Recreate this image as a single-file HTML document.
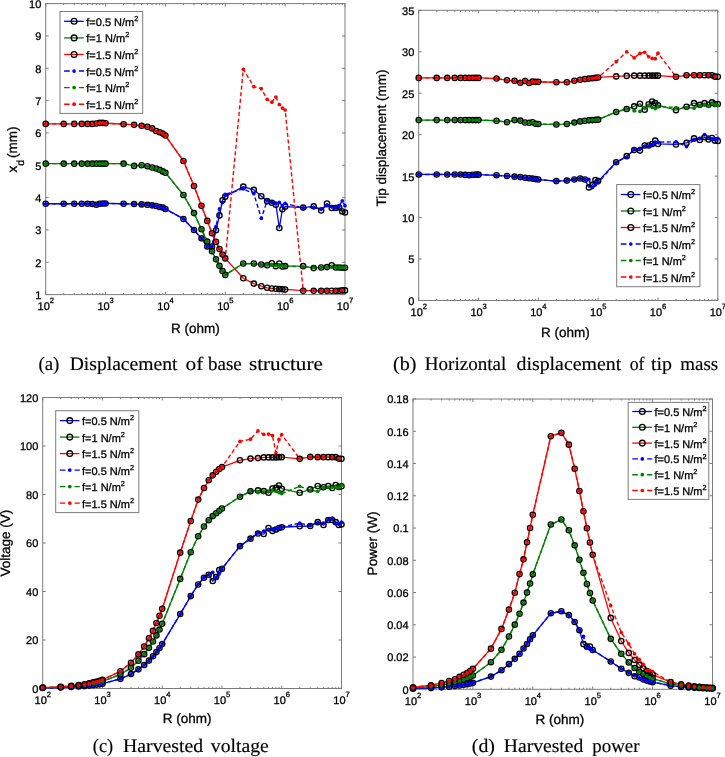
<!DOCTYPE html>
<html lang="en">
<head>
<meta charset="utf-8">
<title>Figure: displacement, voltage and power versus load resistance</title>
<style>
html,body{margin:0;padding:0;background:#fff;}
body{width:725px;height:757px;overflow:hidden;font-family:"Liberation Sans",sans-serif;}
svg{display:block;will-change:transform;}
svg text{stroke:#000;stroke-width:0.3px;paint-order:stroke fill;}
svg .cap text{stroke-width:0.15px;}
</style>
</head>
<body>
<svg width="725" height="757" viewBox="0 0 725 757" font-family="'Liberation Sans', sans-serif" fill="#000" text-rendering="geometricPrecision" stroke-linecap="butt">
<rect width="725" height="757" fill="#fff"/>
<g>
<rect x="45.7" y="3.6" width="299.3" height="291" fill="none" stroke="#7c7c7c" stroke-width="1"/>
<text x="37.57" y="310" font-size="11">10</text>
<text x="49.7" y="303.2" font-size="7.6">2</text>
<text x="97.43" y="310" font-size="11">10</text>
<text x="109.56" y="303.2" font-size="7.6">3</text>
<text x="157.29" y="310" font-size="11">10</text>
<text x="169.42" y="303.2" font-size="7.6">4</text>
<text x="217.15" y="310" font-size="11">10</text>
<text x="229.28" y="303.2" font-size="7.6">5</text>
<text x="277.01" y="310" font-size="11">10</text>
<text x="289.14" y="303.2" font-size="7.6">6</text>
<text x="336.87" y="310" font-size="11">10</text>
<text x="349" y="303.2" font-size="7.6">7</text>
<text x="41.3" y="299" font-size="11" text-anchor="end">1</text>
<text x="41.3" y="266.67" font-size="11" text-anchor="end">2</text>
<text x="41.3" y="234.33" font-size="11" text-anchor="end">3</text>
<text x="41.3" y="202" font-size="11" text-anchor="end">4</text>
<text x="41.3" y="169.67" font-size="11" text-anchor="end">5</text>
<text x="41.3" y="137.33" font-size="11" text-anchor="end">6</text>
<text x="41.3" y="105" font-size="11" text-anchor="end">7</text>
<text x="41.3" y="72.67" font-size="11" text-anchor="end">8</text>
<text x="41.3" y="40.33" font-size="11" text-anchor="end">9</text>
<text x="41.3" y="8" font-size="11" text-anchor="end">10</text>
<path d="M45.7 294.6v-3M45.7 3.6v3M63.72 294.6v-1.6M63.72 3.6v1.6M74.26 294.6v-1.6M74.26 3.6v1.6M81.74 294.6v-1.6M81.74 3.6v1.6M87.54 294.6v-1.6M87.54 3.6v1.6M92.28 294.6v-1.6M92.28 3.6v1.6M96.29 294.6v-1.6M96.29 3.6v1.6M99.76 294.6v-1.6M99.76 3.6v1.6M102.82 294.6v-1.6M102.82 3.6v1.6M105.56 294.6v-3M105.56 3.6v3M123.58 294.6v-1.6M123.58 3.6v1.6M134.12 294.6v-1.6M134.12 3.6v1.6M141.6 294.6v-1.6M141.6 3.6v1.6M147.4 294.6v-1.6M147.4 3.6v1.6M152.14 294.6v-1.6M152.14 3.6v1.6M156.15 294.6v-1.6M156.15 3.6v1.6M159.62 294.6v-1.6M159.62 3.6v1.6M162.68 294.6v-1.6M162.68 3.6v1.6M165.42 294.6v-3M165.42 3.6v3M183.44 294.6v-1.6M183.44 3.6v1.6M193.98 294.6v-1.6M193.98 3.6v1.6M201.46 294.6v-1.6M201.46 3.6v1.6M207.26 294.6v-1.6M207.26 3.6v1.6M212 294.6v-1.6M212 3.6v1.6M216.01 294.6v-1.6M216.01 3.6v1.6M219.48 294.6v-1.6M219.48 3.6v1.6M222.54 294.6v-1.6M222.54 3.6v1.6M225.28 294.6v-3M225.28 3.6v3M243.3 294.6v-1.6M243.3 3.6v1.6M253.84 294.6v-1.6M253.84 3.6v1.6M261.32 294.6v-1.6M261.32 3.6v1.6M267.12 294.6v-1.6M267.12 3.6v1.6M271.86 294.6v-1.6M271.86 3.6v1.6M275.87 294.6v-1.6M275.87 3.6v1.6M279.34 294.6v-1.6M279.34 3.6v1.6M282.4 294.6v-1.6M282.4 3.6v1.6M285.14 294.6v-3M285.14 3.6v3M303.16 294.6v-1.6M303.16 3.6v1.6M313.7 294.6v-1.6M313.7 3.6v1.6M321.18 294.6v-1.6M321.18 3.6v1.6M326.98 294.6v-1.6M326.98 3.6v1.6M331.72 294.6v-1.6M331.72 3.6v1.6M335.73 294.6v-1.6M335.73 3.6v1.6M339.2 294.6v-1.6M339.2 3.6v1.6M342.26 294.6v-1.6M342.26 3.6v1.6M345 294.6v-3M345 3.6v3M45.7 294.6h3M345 294.6h-3M45.7 262.27h3M345 262.27h-3M45.7 229.93h3M345 229.93h-3M45.7 197.6h3M345 197.6h-3M45.7 165.27h3M345 165.27h-3M45.7 132.93h3M345 132.93h-3M45.7 100.6h3M345 100.6h-3M45.7 68.27h3M345 68.27h-3M45.7 35.93h3M345 35.93h-3M45.7 3.6h3M345 3.6h-3" stroke="#7c7c7c" stroke-width="1" fill="none"/>
<polyline points="45.7,203.74 63.72,203.74 74.26,203.74 81.74,203.74 87.54,203.74 92.28,204.07 96.29,204.71 99.76,203.74 102.82,203.42 105.56,203.42 123.58,203.74 134.12,204.07 141.6,204.39 147.4,204.71 152.14,205.36 156.15,206.01 159.62,206.98 162.68,207.62 165.42,208.92 183.44,218.94 193.98,229.93 201.46,238.34 207.26,246.42 212,246.42 216.01,230.26 219.48,215.38 222.54,200.19 225.28,196.63 243.3,186.61 253.84,189.84 261.32,196.31 267.12,201.16 271.86,202.77 275.87,204.71 279.34,227.99 282.4,209.24 285.14,206.65 303.16,207.62 313.7,206.33 321.18,210.53 326.98,203.42 331.72,207.95 335.73,207.95 339.2,207.3 342.26,211.5 345,212.47" fill="none" stroke="#0000ff" stroke-width="1.3" stroke-linejoin="round"/>
<polyline points="45.7,163.65 63.72,163.65 74.26,163.65 81.74,163.65 87.54,163.65 92.28,163.65 96.29,163.65 99.76,163.65 102.82,163.65 105.56,163.65 123.58,163.65 134.12,165.91 141.6,165.27 147.4,166.24 152.14,167.53 156.15,168.5 159.62,169.79 162.68,171.41 165.42,172.7 183.44,195.01 193.98,213.12 201.46,229.29 207.26,241.57 212,251.27 216.01,259.36 219.48,265.82 222.54,271 225.28,274.88 243.3,263.56 253.84,263.56 261.32,264.53 267.12,265.18 271.86,263.24 275.87,266.15 279.34,263.56 282.4,266.47 285.14,266.15 303.16,266.15 313.7,268.09 321.18,267.44 326.98,267.12 331.72,265.18 335.73,267.44 339.2,267.44 342.26,267.76 345,267.76" fill="none" stroke="#007f00" stroke-width="1.3" stroke-linejoin="round"/>
<polyline points="45.7,123.88 63.72,123.88 74.26,123.88 81.74,123.88 87.54,123.88 92.28,123.88 96.29,123.56 99.76,122.91 102.82,122.91 105.56,123.23 123.58,124.2 134.12,124.85 141.6,125.82 147.4,126.79 152.14,128.41 156.15,130.99 159.62,132.29 162.68,133.58 165.42,135.52 183.44,161.06 193.98,185.96 201.46,205.68 207.26,220.88 212,233.17 216.01,241.9 219.48,249.01 222.54,254.51 225.28,258.39 243.3,278.27 253.84,283.61 261.32,286.19 267.12,287.81 271.86,288.46 275.87,288.78 279.34,289.1 282.4,289.27 285.14,289.43 303.16,290.72 313.7,290.72 321.18,290.72 326.98,290.72 331.72,290.72 335.73,290.72 339.2,290.72 342.26,290.4 345,290.4" fill="none" stroke="#ff0000" stroke-width="1.3" stroke-linejoin="round"/>
<polyline points="45.7,203.74 63.72,203.74 74.26,203.74 81.74,203.74 87.54,203.74 92.28,204.07 96.29,204.71 99.76,203.74 102.82,203.42 105.56,203.42 123.58,203.74 134.12,204.07 141.6,204.39 147.4,204.71 152.14,205.36 156.15,206.01 159.62,206.98 162.68,207.62 165.42,208.92 183.44,218.94 193.98,229.93 201.46,238.34 207.26,246.42 212,246.42 216.01,226.7 219.48,208.92 222.54,202.45 225.28,194.37 243.3,188.87 253.84,193.72 261.32,218.29 267.12,200.83 271.86,202.45 275.87,203.42 279.34,202.45 282.4,205.68 285.14,203.42 303.16,207.95 313.7,207.3 321.18,208.92 326.98,205.68 331.72,206.65 335.73,207.95 339.2,205.68 342.26,200.83 345,205.68" fill="none" stroke="#0000ff" stroke-width="1.4" stroke-dasharray="4.1 2.5" stroke-linejoin="round"/>
<polyline points="45.7,163.65 63.72,163.65 74.26,163.65 81.74,163.65 87.54,163.65 92.28,163.65 96.29,163.65 99.76,163.65 102.82,163.65 105.56,163.65 123.58,163.65 134.12,165.91 141.6,165.27 147.4,166.24 152.14,167.53 156.15,168.5 159.62,169.79 162.68,171.41 165.42,172.7 183.44,195.01 193.98,213.12 201.46,229.29 207.26,241.57 212,251.27 216.01,259.36 219.48,265.82 222.54,271 225.28,274.88 243.3,263.56 253.84,263.88 261.32,264.53 267.12,264.85 271.86,265.18 275.87,265.5 279.34,265.5 282.4,265.82 285.14,266.15 303.16,266.79 313.7,267.44 321.18,267.44 326.98,267.12 331.72,266.79 335.73,267.44 339.2,267.44 342.26,267.44 345,267.44" fill="none" stroke="#007f00" stroke-width="1.4" stroke-dasharray="4.1 2.5" stroke-linejoin="round"/>
<polyline points="45.7,123.88 63.72,123.88 74.26,123.88 81.74,123.88 87.54,123.88 92.28,123.88 96.29,123.56 99.76,122.91 102.82,122.91 105.56,123.23 123.58,124.2 134.12,124.85 141.6,125.82 147.4,126.79 152.14,128.41 156.15,130.99 159.62,132.29 162.68,133.58 165.42,135.52 183.44,161.06 193.98,185.96 201.46,205.68 207.26,220.88 212,233.17 216.01,241.9 219.48,249.01 222.54,254.51 225.28,258.39 243.3,69.24 253.84,86.7 261.32,88.64 267.12,99.31 271.86,102.22 275.87,97.04 279.34,104.48 282.4,108.04 285.14,109.98 303.16,290.4 313.7,290.72 321.18,290.72 326.98,290.72 335.73,290.72 342.26,290.4" fill="none" stroke="#ff0000" stroke-width="1.4" stroke-dasharray="4.1 2.5" stroke-linejoin="round"/>
<g fill="none" stroke="#000" stroke-width="1.35"><circle cx="45.7" cy="203.74" r="2.62"/><circle cx="63.72" cy="203.74" r="2.62"/><circle cx="74.26" cy="203.74" r="2.62"/><circle cx="81.74" cy="203.74" r="2.62"/><circle cx="87.54" cy="203.74" r="2.62"/><circle cx="92.28" cy="204.07" r="2.62"/><circle cx="96.29" cy="204.71" r="2.62"/><circle cx="99.76" cy="203.74" r="2.62"/><circle cx="102.82" cy="203.42" r="2.62"/><circle cx="105.56" cy="203.42" r="2.62"/><circle cx="123.58" cy="203.74" r="2.62"/><circle cx="134.12" cy="204.07" r="2.62"/><circle cx="141.6" cy="204.39" r="2.62"/><circle cx="147.4" cy="204.71" r="2.62"/><circle cx="152.14" cy="205.36" r="2.62"/><circle cx="156.15" cy="206.01" r="2.62"/><circle cx="159.62" cy="206.98" r="2.62"/><circle cx="162.68" cy="207.62" r="2.62"/><circle cx="165.42" cy="208.92" r="2.62"/><circle cx="183.44" cy="218.94" r="2.62"/><circle cx="193.98" cy="229.93" r="2.62"/><circle cx="201.46" cy="238.34" r="2.62"/><circle cx="207.26" cy="246.42" r="2.62"/><circle cx="212" cy="246.42" r="2.62"/><circle cx="216.01" cy="230.26" r="2.62"/><circle cx="219.48" cy="215.38" r="2.62"/><circle cx="222.54" cy="200.19" r="2.62"/><circle cx="225.28" cy="196.63" r="2.62"/><circle cx="243.3" cy="186.61" r="2.62"/><circle cx="253.84" cy="189.84" r="2.62"/><circle cx="261.32" cy="196.31" r="2.62"/><circle cx="267.12" cy="201.16" r="2.62"/><circle cx="271.86" cy="202.77" r="2.62"/><circle cx="275.87" cy="204.71" r="2.62"/><circle cx="279.34" cy="227.99" r="2.62"/><circle cx="282.4" cy="209.24" r="2.62"/><circle cx="285.14" cy="206.65" r="2.62"/><circle cx="303.16" cy="207.62" r="2.62"/><circle cx="313.7" cy="206.33" r="2.62"/><circle cx="321.18" cy="210.53" r="2.62"/><circle cx="326.98" cy="203.42" r="2.62"/><circle cx="331.72" cy="207.95" r="2.62"/><circle cx="335.73" cy="207.95" r="2.62"/><circle cx="339.2" cy="207.3" r="2.62"/><circle cx="342.26" cy="211.5" r="2.62"/><circle cx="345" cy="212.47" r="2.62"/></g>
<g fill="none" stroke="#000" stroke-width="1.35"><circle cx="45.7" cy="163.65" r="2.62"/><circle cx="63.72" cy="163.65" r="2.62"/><circle cx="74.26" cy="163.65" r="2.62"/><circle cx="81.74" cy="163.65" r="2.62"/><circle cx="87.54" cy="163.65" r="2.62"/><circle cx="92.28" cy="163.65" r="2.62"/><circle cx="96.29" cy="163.65" r="2.62"/><circle cx="99.76" cy="163.65" r="2.62"/><circle cx="102.82" cy="163.65" r="2.62"/><circle cx="105.56" cy="163.65" r="2.62"/><circle cx="123.58" cy="163.65" r="2.62"/><circle cx="134.12" cy="165.91" r="2.62"/><circle cx="141.6" cy="165.27" r="2.62"/><circle cx="147.4" cy="166.24" r="2.62"/><circle cx="152.14" cy="167.53" r="2.62"/><circle cx="156.15" cy="168.5" r="2.62"/><circle cx="159.62" cy="169.79" r="2.62"/><circle cx="162.68" cy="171.41" r="2.62"/><circle cx="165.42" cy="172.7" r="2.62"/><circle cx="183.44" cy="195.01" r="2.62"/><circle cx="193.98" cy="213.12" r="2.62"/><circle cx="201.46" cy="229.29" r="2.62"/><circle cx="207.26" cy="241.57" r="2.62"/><circle cx="212" cy="251.27" r="2.62"/><circle cx="216.01" cy="259.36" r="2.62"/><circle cx="219.48" cy="265.82" r="2.62"/><circle cx="222.54" cy="271" r="2.62"/><circle cx="225.28" cy="274.88" r="2.62"/><circle cx="243.3" cy="263.56" r="2.62"/><circle cx="253.84" cy="263.56" r="2.62"/><circle cx="261.32" cy="264.53" r="2.62"/><circle cx="267.12" cy="265.18" r="2.62"/><circle cx="271.86" cy="263.24" r="2.62"/><circle cx="275.87" cy="266.15" r="2.62"/><circle cx="279.34" cy="263.56" r="2.62"/><circle cx="282.4" cy="266.47" r="2.62"/><circle cx="285.14" cy="266.15" r="2.62"/><circle cx="303.16" cy="266.15" r="2.62"/><circle cx="313.7" cy="268.09" r="2.62"/><circle cx="321.18" cy="267.44" r="2.62"/><circle cx="326.98" cy="267.12" r="2.62"/><circle cx="331.72" cy="265.18" r="2.62"/><circle cx="335.73" cy="267.44" r="2.62"/><circle cx="339.2" cy="267.44" r="2.62"/><circle cx="342.26" cy="267.76" r="2.62"/><circle cx="345" cy="267.76" r="2.62"/></g>
<g fill="none" stroke="#000" stroke-width="1.35"><circle cx="45.7" cy="123.88" r="2.62"/><circle cx="63.72" cy="123.88" r="2.62"/><circle cx="74.26" cy="123.88" r="2.62"/><circle cx="81.74" cy="123.88" r="2.62"/><circle cx="87.54" cy="123.88" r="2.62"/><circle cx="92.28" cy="123.88" r="2.62"/><circle cx="96.29" cy="123.56" r="2.62"/><circle cx="99.76" cy="122.91" r="2.62"/><circle cx="102.82" cy="122.91" r="2.62"/><circle cx="105.56" cy="123.23" r="2.62"/><circle cx="123.58" cy="124.2" r="2.62"/><circle cx="134.12" cy="124.85" r="2.62"/><circle cx="141.6" cy="125.82" r="2.62"/><circle cx="147.4" cy="126.79" r="2.62"/><circle cx="152.14" cy="128.41" r="2.62"/><circle cx="156.15" cy="130.99" r="2.62"/><circle cx="159.62" cy="132.29" r="2.62"/><circle cx="162.68" cy="133.58" r="2.62"/><circle cx="165.42" cy="135.52" r="2.62"/><circle cx="183.44" cy="161.06" r="2.62"/><circle cx="193.98" cy="185.96" r="2.62"/><circle cx="201.46" cy="205.68" r="2.62"/><circle cx="207.26" cy="220.88" r="2.62"/><circle cx="212" cy="233.17" r="2.62"/><circle cx="216.01" cy="241.9" r="2.62"/><circle cx="219.48" cy="249.01" r="2.62"/><circle cx="222.54" cy="254.51" r="2.62"/><circle cx="225.28" cy="258.39" r="2.62"/><circle cx="243.3" cy="278.27" r="2.62"/><circle cx="253.84" cy="283.61" r="2.62"/><circle cx="261.32" cy="286.19" r="2.62"/><circle cx="267.12" cy="287.81" r="2.62"/><circle cx="271.86" cy="288.46" r="2.62"/><circle cx="275.87" cy="288.78" r="2.62"/><circle cx="279.34" cy="289.1" r="2.62"/><circle cx="282.4" cy="289.27" r="2.62"/><circle cx="285.14" cy="289.43" r="2.62"/><circle cx="303.16" cy="290.72" r="2.62"/><circle cx="313.7" cy="290.72" r="2.62"/><circle cx="321.18" cy="290.72" r="2.62"/><circle cx="326.98" cy="290.72" r="2.62"/><circle cx="331.72" cy="290.72" r="2.62"/><circle cx="335.73" cy="290.72" r="2.62"/><circle cx="339.2" cy="290.72" r="2.62"/><circle cx="342.26" cy="290.4" r="2.62"/><circle cx="345" cy="290.4" r="2.62"/></g>
<g fill="#0000ff" stroke="none"><circle cx="45.7" cy="203.74" r="1.85"/><circle cx="63.72" cy="203.74" r="1.85"/><circle cx="74.26" cy="203.74" r="1.85"/><circle cx="81.74" cy="203.74" r="1.85"/><circle cx="87.54" cy="203.74" r="1.85"/><circle cx="92.28" cy="204.07" r="1.85"/><circle cx="96.29" cy="204.71" r="1.85"/><circle cx="99.76" cy="203.74" r="1.85"/><circle cx="102.82" cy="203.42" r="1.85"/><circle cx="105.56" cy="203.42" r="1.85"/><circle cx="123.58" cy="203.74" r="1.85"/><circle cx="134.12" cy="204.07" r="1.85"/><circle cx="141.6" cy="204.39" r="1.85"/><circle cx="147.4" cy="204.71" r="1.85"/><circle cx="152.14" cy="205.36" r="1.85"/><circle cx="156.15" cy="206.01" r="1.85"/><circle cx="159.62" cy="206.98" r="1.85"/><circle cx="162.68" cy="207.62" r="1.85"/><circle cx="165.42" cy="208.92" r="1.85"/><circle cx="183.44" cy="218.94" r="1.85"/><circle cx="193.98" cy="229.93" r="1.85"/><circle cx="201.46" cy="238.34" r="1.85"/><circle cx="207.26" cy="246.42" r="1.85"/><circle cx="212" cy="246.42" r="1.85"/><circle cx="216.01" cy="226.7" r="1.85"/><circle cx="219.48" cy="208.92" r="1.85"/><circle cx="222.54" cy="202.45" r="1.85"/><circle cx="225.28" cy="194.37" r="1.85"/><circle cx="243.3" cy="188.87" r="1.85"/><circle cx="253.84" cy="193.72" r="1.85"/><circle cx="261.32" cy="218.29" r="1.85"/><circle cx="267.12" cy="200.83" r="1.85"/><circle cx="271.86" cy="202.45" r="1.85"/><circle cx="275.87" cy="203.42" r="1.85"/><circle cx="279.34" cy="202.45" r="1.85"/><circle cx="282.4" cy="205.68" r="1.85"/><circle cx="285.14" cy="203.42" r="1.85"/><circle cx="303.16" cy="207.95" r="1.85"/><circle cx="313.7" cy="207.3" r="1.85"/><circle cx="321.18" cy="208.92" r="1.85"/><circle cx="326.98" cy="205.68" r="1.85"/><circle cx="331.72" cy="206.65" r="1.85"/><circle cx="335.73" cy="207.95" r="1.85"/><circle cx="339.2" cy="205.68" r="1.85"/><circle cx="342.26" cy="200.83" r="1.85"/><circle cx="345" cy="205.68" r="1.85"/></g>
<g fill="#007f00" stroke="none"><circle cx="45.7" cy="163.65" r="1.85"/><circle cx="63.72" cy="163.65" r="1.85"/><circle cx="74.26" cy="163.65" r="1.85"/><circle cx="81.74" cy="163.65" r="1.85"/><circle cx="87.54" cy="163.65" r="1.85"/><circle cx="92.28" cy="163.65" r="1.85"/><circle cx="96.29" cy="163.65" r="1.85"/><circle cx="99.76" cy="163.65" r="1.85"/><circle cx="102.82" cy="163.65" r="1.85"/><circle cx="105.56" cy="163.65" r="1.85"/><circle cx="123.58" cy="163.65" r="1.85"/><circle cx="134.12" cy="165.91" r="1.85"/><circle cx="141.6" cy="165.27" r="1.85"/><circle cx="147.4" cy="166.24" r="1.85"/><circle cx="152.14" cy="167.53" r="1.85"/><circle cx="156.15" cy="168.5" r="1.85"/><circle cx="159.62" cy="169.79" r="1.85"/><circle cx="162.68" cy="171.41" r="1.85"/><circle cx="165.42" cy="172.7" r="1.85"/><circle cx="183.44" cy="195.01" r="1.85"/><circle cx="193.98" cy="213.12" r="1.85"/><circle cx="201.46" cy="229.29" r="1.85"/><circle cx="207.26" cy="241.57" r="1.85"/><circle cx="212" cy="251.27" r="1.85"/><circle cx="216.01" cy="259.36" r="1.85"/><circle cx="219.48" cy="265.82" r="1.85"/><circle cx="222.54" cy="271" r="1.85"/><circle cx="225.28" cy="274.88" r="1.85"/><circle cx="243.3" cy="263.56" r="1.85"/><circle cx="253.84" cy="263.88" r="1.85"/><circle cx="261.32" cy="264.53" r="1.85"/><circle cx="267.12" cy="264.85" r="1.85"/><circle cx="271.86" cy="265.18" r="1.85"/><circle cx="275.87" cy="265.5" r="1.85"/><circle cx="279.34" cy="265.5" r="1.85"/><circle cx="282.4" cy="265.82" r="1.85"/><circle cx="285.14" cy="266.15" r="1.85"/><circle cx="303.16" cy="266.79" r="1.85"/><circle cx="313.7" cy="267.44" r="1.85"/><circle cx="321.18" cy="267.44" r="1.85"/><circle cx="326.98" cy="267.12" r="1.85"/><circle cx="331.72" cy="266.79" r="1.85"/><circle cx="335.73" cy="267.44" r="1.85"/><circle cx="339.2" cy="267.44" r="1.85"/><circle cx="342.26" cy="267.44" r="1.85"/><circle cx="345" cy="267.44" r="1.85"/></g>
<g fill="#ff0000" stroke="none"><circle cx="45.7" cy="123.88" r="1.85"/><circle cx="63.72" cy="123.88" r="1.85"/><circle cx="74.26" cy="123.88" r="1.85"/><circle cx="81.74" cy="123.88" r="1.85"/><circle cx="87.54" cy="123.88" r="1.85"/><circle cx="92.28" cy="123.88" r="1.85"/><circle cx="96.29" cy="123.56" r="1.85"/><circle cx="99.76" cy="122.91" r="1.85"/><circle cx="102.82" cy="122.91" r="1.85"/><circle cx="105.56" cy="123.23" r="1.85"/><circle cx="123.58" cy="124.2" r="1.85"/><circle cx="134.12" cy="124.85" r="1.85"/><circle cx="141.6" cy="125.82" r="1.85"/><circle cx="147.4" cy="126.79" r="1.85"/><circle cx="152.14" cy="128.41" r="1.85"/><circle cx="156.15" cy="130.99" r="1.85"/><circle cx="159.62" cy="132.29" r="1.85"/><circle cx="162.68" cy="133.58" r="1.85"/><circle cx="165.42" cy="135.52" r="1.85"/><circle cx="183.44" cy="161.06" r="1.85"/><circle cx="193.98" cy="185.96" r="1.85"/><circle cx="201.46" cy="205.68" r="1.85"/><circle cx="207.26" cy="220.88" r="1.85"/><circle cx="212" cy="233.17" r="1.85"/><circle cx="216.01" cy="241.9" r="1.85"/><circle cx="219.48" cy="249.01" r="1.85"/><circle cx="222.54" cy="254.51" r="1.85"/><circle cx="225.28" cy="258.39" r="1.85"/><circle cx="243.3" cy="69.24" r="1.85"/><circle cx="253.84" cy="86.7" r="1.85"/><circle cx="261.32" cy="88.64" r="1.85"/><circle cx="267.12" cy="99.31" r="1.85"/><circle cx="271.86" cy="102.22" r="1.85"/><circle cx="275.87" cy="97.04" r="1.85"/><circle cx="279.34" cy="104.48" r="1.85"/><circle cx="282.4" cy="108.04" r="1.85"/><circle cx="285.14" cy="109.98" r="1.85"/><circle cx="303.16" cy="290.4" r="1.85"/><circle cx="313.7" cy="290.72" r="1.85"/><circle cx="321.18" cy="290.72" r="1.85"/><circle cx="326.98" cy="290.72" r="1.85"/><circle cx="335.73" cy="290.72" r="1.85"/><circle cx="342.26" cy="290.4" r="1.85"/></g>
<text x="195.5" y="332.8" font-size="13.5" text-anchor="middle">R (ohm)</text>
<text transform="translate(17.2,149.6) rotate(-90)" font-size="13.5" text-anchor="middle">x<tspan dy="6.3" font-size="10.5">d</tspan><tspan dy="-6.3" dx="-1.8"> (mm)</tspan></text>
<rect x="60" y="11.5" width="82.7" height="101.9" fill="#fff" stroke="#7c7c7c" stroke-width="1"/>
<path d="M64.1 21.3h19.6" stroke="#0000ff" stroke-width="1.3"/>
<circle cx="74.1" cy="21.3" r="2.85" fill="none" stroke="#000" stroke-width="1.35"/>
<text x="86.3" y="25.8" font-size="11">f=0.5 N/m<tspan dy="-4.9" font-size="7.3">2</tspan></text>
<path d="M64.1 37.88h19.6" stroke="#007f00" stroke-width="1.3"/>
<circle cx="74.1" cy="37.88" r="2.85" fill="none" stroke="#000" stroke-width="1.35"/>
<text x="86.3" y="42.38" font-size="11">f=1 N/m<tspan dy="-4.9" font-size="7.3">2</tspan></text>
<path d="M64.1 54.46h19.6" stroke="#ff0000" stroke-width="1.3"/>
<circle cx="74.1" cy="54.46" r="2.85" fill="none" stroke="#000" stroke-width="1.35"/>
<text x="86.3" y="58.96" font-size="11">f=1.5 N/m<tspan dy="-4.9" font-size="7.3">2</tspan></text>
<path d="M64.1 71.04h5.6m9.2 0h5.2" stroke="#0000ff" stroke-width="1.4"/>
<circle cx="74.1" cy="71.04" r="1.85" fill="#0000ff"/>
<text x="86.3" y="75.54" font-size="11">f=0.5 N/m<tspan dy="-4.9" font-size="7.3">2</tspan></text>
<path d="M64.1 87.62h5.6m9.2 0h5.2" stroke="#007f00" stroke-width="1.4"/>
<circle cx="74.1" cy="87.62" r="1.85" fill="#007f00"/>
<text x="86.3" y="92.12" font-size="11">f=1 N/m<tspan dy="-4.9" font-size="7.3">2</tspan></text>
<path d="M64.1 104.2h5.6m9.2 0h5.2" stroke="#ff0000" stroke-width="1.4"/>
<circle cx="74.1" cy="104.2" r="1.85" fill="#ff0000"/>
<text x="86.3" y="108.7" font-size="11">f=1.5 N/m<tspan dy="-4.9" font-size="7.3">2</tspan></text>
</g>
<g>
<rect x="418.7" y="10.3" width="299.1" height="290.2" fill="none" stroke="#7c7c7c" stroke-width="1"/>
<text x="410.57" y="315.9" font-size="11">10</text>
<text x="422.7" y="309.1" font-size="7.6">2</text>
<text x="470.39" y="315.9" font-size="11">10</text>
<text x="482.52" y="309.1" font-size="7.6">3</text>
<text x="530.21" y="315.9" font-size="11">10</text>
<text x="542.34" y="309.1" font-size="7.6">4</text>
<text x="590.03" y="315.9" font-size="11">10</text>
<text x="602.16" y="309.1" font-size="7.6">5</text>
<text x="649.85" y="315.9" font-size="11">10</text>
<text x="661.98" y="309.1" font-size="7.6">6</text>
<text x="709.67" y="315.9" font-size="11">10</text>
<text x="721.8" y="309.1" font-size="7.6">7</text>
<text x="414.3" y="304.9" font-size="11" text-anchor="end">0</text>
<text x="414.3" y="263.44" font-size="11" text-anchor="end">5</text>
<text x="414.3" y="221.99" font-size="11" text-anchor="end">10</text>
<text x="414.3" y="180.53" font-size="11" text-anchor="end">15</text>
<text x="414.3" y="139.07" font-size="11" text-anchor="end">20</text>
<text x="414.3" y="97.61" font-size="11" text-anchor="end">25</text>
<text x="414.3" y="56.16" font-size="11" text-anchor="end">30</text>
<text x="414.3" y="14.7" font-size="11" text-anchor="end">35</text>
<path d="M418.7 300.5v-3M418.7 10.3v3M436.71 300.5v-1.6M436.71 10.3v1.6M447.24 300.5v-1.6M447.24 10.3v1.6M454.72 300.5v-1.6M454.72 10.3v1.6M460.51 300.5v-1.6M460.51 10.3v1.6M465.25 300.5v-1.6M465.25 10.3v1.6M469.25 300.5v-1.6M469.25 10.3v1.6M472.72 300.5v-1.6M472.72 10.3v1.6M475.78 300.5v-1.6M475.78 10.3v1.6M478.52 300.5v-3M478.52 10.3v3M496.53 300.5v-1.6M496.53 10.3v1.6M507.06 300.5v-1.6M507.06 10.3v1.6M514.54 300.5v-1.6M514.54 10.3v1.6M520.33 300.5v-1.6M520.33 10.3v1.6M525.07 300.5v-1.6M525.07 10.3v1.6M529.07 300.5v-1.6M529.07 10.3v1.6M532.54 300.5v-1.6M532.54 10.3v1.6M535.6 300.5v-1.6M535.6 10.3v1.6M538.34 300.5v-3M538.34 10.3v3M556.35 300.5v-1.6M556.35 10.3v1.6M566.88 300.5v-1.6M566.88 10.3v1.6M574.36 300.5v-1.6M574.36 10.3v1.6M580.15 300.5v-1.6M580.15 10.3v1.6M584.89 300.5v-1.6M584.89 10.3v1.6M588.89 300.5v-1.6M588.89 10.3v1.6M592.36 300.5v-1.6M592.36 10.3v1.6M595.42 300.5v-1.6M595.42 10.3v1.6M598.16 300.5v-3M598.16 10.3v3M616.17 300.5v-1.6M616.17 10.3v1.6M626.7 300.5v-1.6M626.7 10.3v1.6M634.18 300.5v-1.6M634.18 10.3v1.6M639.97 300.5v-1.6M639.97 10.3v1.6M644.71 300.5v-1.6M644.71 10.3v1.6M648.71 300.5v-1.6M648.71 10.3v1.6M652.18 300.5v-1.6M652.18 10.3v1.6M655.24 300.5v-1.6M655.24 10.3v1.6M657.98 300.5v-3M657.98 10.3v3M675.99 300.5v-1.6M675.99 10.3v1.6M686.52 300.5v-1.6M686.52 10.3v1.6M694 300.5v-1.6M694 10.3v1.6M699.79 300.5v-1.6M699.79 10.3v1.6M704.53 300.5v-1.6M704.53 10.3v1.6M708.53 300.5v-1.6M708.53 10.3v1.6M712 300.5v-1.6M712 10.3v1.6M715.06 300.5v-1.6M715.06 10.3v1.6M717.8 300.5v-3M717.8 10.3v3M418.7 300.5h3M717.8 300.5h-3M418.7 259.04h3M717.8 259.04h-3M418.7 217.59h3M717.8 217.59h-3M418.7 176.13h3M717.8 176.13h-3M418.7 134.67h3M717.8 134.67h-3M418.7 93.21h3M717.8 93.21h-3M418.7 51.76h3M717.8 51.76h-3M418.7 10.3h3M717.8 10.3h-3" stroke="#7c7c7c" stroke-width="1" fill="none"/>
<polyline points="418.7,174.47 436.71,174.47 447.24,174.47 454.72,174.47 460.51,174.47 465.25,174.88 469.25,175.13 472.72,174.8 475.78,174.64 478.52,174.64 496.53,175.3 507.06,176.05 514.54,176.63 520.33,177.12 525.07,177.79 529.07,178.2 532.54,178.62 535.6,179.11 538.34,179.53 556.35,181.1 566.88,180.61 574.36,179.45 580.15,178.45 584.89,179.45 588.89,187.4 592.36,184.83 595.42,179.94 598.16,181.1 616.17,162.28 626.7,156.15 634.18,149.93 639.97,150.59 644.71,145.53 648.71,145.53 652.18,143.96 655.24,140.64 657.98,143.96 675.99,144.46 686.52,142.88 694,138.4 699.79,139.98 704.53,137.32 708.53,139.56 712,137.99 715.06,140.64 717.8,141.06" fill="none" stroke="#0000ff" stroke-width="1.3" stroke-linejoin="round"/>
<polyline points="418.7,120.08 436.71,120.08 447.24,120.08 454.72,120.08 460.51,120.08 465.25,120.08 469.25,120.08 472.72,120.08 475.78,120.08 478.52,120.08 496.53,120.74 507.06,122.23 514.54,120.08 520.33,120.58 525.07,122.48 529.07,122.73 532.54,122.23 535.6,123.81 538.34,124.06 556.35,124.47 566.88,124.06 574.36,122.57 580.15,121.41 584.89,120.74 588.89,120.33 592.36,120.08 595.42,119.91 598.16,119.66 616.17,111.95 626.7,109.05 634.18,106.4 639.97,103.74 644.71,109.8 648.71,104.24 652.18,101.51 655.24,103.16 657.98,105.24 675.99,110.13 686.52,106.81 694,103.16 699.79,104.82 704.53,103.16 708.53,104.82 712,102.33 715.06,103.99 717.8,103.99" fill="none" stroke="#007f00" stroke-width="1.3" stroke-linejoin="round"/>
<polyline points="418.7,77.88 436.71,77.88 447.24,77.88 454.72,77.88 460.51,77.88 465.25,77.88 469.25,77.88 472.72,77.88 475.78,77.88 478.52,77.88 496.53,78.54 507.06,80.28 514.54,80.78 520.33,82.68 525.07,80.94 529.07,82.93 532.54,81.61 535.6,81.86 538.34,81.86 556.35,82.27 566.88,82.27 574.36,80.78 580.15,79.78 584.89,79.12 588.89,78.62 592.36,78.29 595.42,77.88 598.16,77.46 616.17,76.38 626.7,75.89 634.18,75.64 639.97,75.64 644.71,75.64 648.71,75.64 652.18,75.64 655.24,75.64 657.98,75.64 675.99,76.8 686.52,75.22 694,75.22 699.79,75.22 704.53,75.22 708.53,75.22 712,75.22 715.06,76.63 717.8,76.8" fill="none" stroke="#ff0000" stroke-width="1.3" stroke-linejoin="round"/>
<polyline points="418.7,174.47 436.71,174.47 447.24,174.47 454.72,174.47 460.51,174.47 465.25,174.88 469.25,175.13 472.72,174.8 475.78,174.64 478.52,174.64 496.53,175.3 507.06,176.05 514.54,176.63 520.33,177.12 525.07,177.79 529.07,178.2 532.54,178.62 535.6,179.11 538.34,179.53 556.35,181.1 566.88,180.61 574.36,179.45 580.15,178.45 584.89,179.45 588.89,179.45 592.36,187.4 595.42,184.83 598.16,182.76 616.17,162.28 626.7,157.06 634.18,149.6 639.97,148.35 644.71,146.11 648.71,146.11 652.18,144.62 655.24,142.96 657.98,142.13 675.99,141.8 686.52,146.61 694,139.65 699.79,138.4 704.53,134.67 708.53,137.16 712,138.82 715.06,138.82 717.8,138.4" fill="none" stroke="#0000ff" stroke-width="1.4" stroke-dasharray="4.1 2.5" stroke-linejoin="round"/>
<polyline points="418.7,120.08 436.71,120.08 447.24,120.08 454.72,120.08 460.51,120.08 465.25,120.08 469.25,120.08 472.72,120.08 475.78,120.08 478.52,120.08 496.53,120.74 507.06,122.23 514.54,120.08 520.33,120.58 525.07,122.48 529.07,122.73 532.54,122.23 535.6,123.81 538.34,124.06 556.35,124.47 566.88,124.06 574.36,122.57 580.15,121.41 584.89,120.74 588.89,120.33 592.36,120.08 595.42,119.91 598.16,119.66 616.17,111.95 626.7,108.97 634.18,110.79 639.97,111.46 644.71,107.48 648.71,105.24 652.18,107.48 655.24,108.55 657.98,106.48 675.99,107.48 686.52,107.48 694,108.14 699.79,105.24 704.53,104.82 708.53,106.48 712,103.16 715.06,104.82 717.8,105.24" fill="none" stroke="#007f00" stroke-width="1.4" stroke-dasharray="4.1 2.5" stroke-linejoin="round"/>
<polyline points="418.7,77.88 436.71,77.88 447.24,77.88 454.72,77.88 460.51,77.88 465.25,77.88 469.25,77.88 472.72,77.88 475.78,77.88 478.52,77.88 496.53,78.54 507.06,80.28 514.54,80.78 520.33,82.68 525.07,80.94 529.07,82.93 532.54,81.61 535.6,81.86 538.34,81.86 556.35,82.27 566.88,82.27 574.36,80.78 580.15,79.78 584.89,79.12 588.89,78.62 592.36,78.29 595.42,77.88 598.16,77.46 616.17,61.71 626.7,51.76 634.18,57.81 639.97,53.42 644.71,52.25 648.71,56.73 652.18,58.39 655.24,58.64 657.98,53.17 675.99,76.8 686.52,75.22 694,75.22 699.79,75.22 708.53,75.22 715.06,76.63" fill="none" stroke="#ff0000" stroke-width="1.4" stroke-dasharray="4.1 2.5" stroke-linejoin="round"/>
<g fill="none" stroke="#000" stroke-width="1.35"><circle cx="418.7" cy="174.47" r="2.62"/><circle cx="436.71" cy="174.47" r="2.62"/><circle cx="447.24" cy="174.47" r="2.62"/><circle cx="454.72" cy="174.47" r="2.62"/><circle cx="460.51" cy="174.47" r="2.62"/><circle cx="465.25" cy="174.88" r="2.62"/><circle cx="469.25" cy="175.13" r="2.62"/><circle cx="472.72" cy="174.8" r="2.62"/><circle cx="475.78" cy="174.64" r="2.62"/><circle cx="478.52" cy="174.64" r="2.62"/><circle cx="496.53" cy="175.3" r="2.62"/><circle cx="507.06" cy="176.05" r="2.62"/><circle cx="514.54" cy="176.63" r="2.62"/><circle cx="520.33" cy="177.12" r="2.62"/><circle cx="525.07" cy="177.79" r="2.62"/><circle cx="529.07" cy="178.2" r="2.62"/><circle cx="532.54" cy="178.62" r="2.62"/><circle cx="535.6" cy="179.11" r="2.62"/><circle cx="538.34" cy="179.53" r="2.62"/><circle cx="556.35" cy="181.1" r="2.62"/><circle cx="566.88" cy="180.61" r="2.62"/><circle cx="574.36" cy="179.45" r="2.62"/><circle cx="580.15" cy="178.45" r="2.62"/><circle cx="584.89" cy="179.45" r="2.62"/><circle cx="588.89" cy="187.4" r="2.62"/><circle cx="592.36" cy="184.83" r="2.62"/><circle cx="595.42" cy="179.94" r="2.62"/><circle cx="598.16" cy="181.1" r="2.62"/><circle cx="616.17" cy="162.28" r="2.62"/><circle cx="626.7" cy="156.15" r="2.62"/><circle cx="634.18" cy="149.93" r="2.62"/><circle cx="639.97" cy="150.59" r="2.62"/><circle cx="644.71" cy="145.53" r="2.62"/><circle cx="648.71" cy="145.53" r="2.62"/><circle cx="652.18" cy="143.96" r="2.62"/><circle cx="655.24" cy="140.64" r="2.62"/><circle cx="657.98" cy="143.96" r="2.62"/><circle cx="675.99" cy="144.46" r="2.62"/><circle cx="686.52" cy="142.88" r="2.62"/><circle cx="694" cy="138.4" r="2.62"/><circle cx="699.79" cy="139.98" r="2.62"/><circle cx="704.53" cy="137.32" r="2.62"/><circle cx="708.53" cy="139.56" r="2.62"/><circle cx="712" cy="137.99" r="2.62"/><circle cx="715.06" cy="140.64" r="2.62"/><circle cx="717.8" cy="141.06" r="2.62"/></g>
<g fill="none" stroke="#000" stroke-width="1.35"><circle cx="418.7" cy="120.08" r="2.62"/><circle cx="436.71" cy="120.08" r="2.62"/><circle cx="447.24" cy="120.08" r="2.62"/><circle cx="454.72" cy="120.08" r="2.62"/><circle cx="460.51" cy="120.08" r="2.62"/><circle cx="465.25" cy="120.08" r="2.62"/><circle cx="469.25" cy="120.08" r="2.62"/><circle cx="472.72" cy="120.08" r="2.62"/><circle cx="475.78" cy="120.08" r="2.62"/><circle cx="478.52" cy="120.08" r="2.62"/><circle cx="496.53" cy="120.74" r="2.62"/><circle cx="507.06" cy="122.23" r="2.62"/><circle cx="514.54" cy="120.08" r="2.62"/><circle cx="520.33" cy="120.58" r="2.62"/><circle cx="525.07" cy="122.48" r="2.62"/><circle cx="529.07" cy="122.73" r="2.62"/><circle cx="532.54" cy="122.23" r="2.62"/><circle cx="535.6" cy="123.81" r="2.62"/><circle cx="538.34" cy="124.06" r="2.62"/><circle cx="556.35" cy="124.47" r="2.62"/><circle cx="566.88" cy="124.06" r="2.62"/><circle cx="574.36" cy="122.57" r="2.62"/><circle cx="580.15" cy="121.41" r="2.62"/><circle cx="584.89" cy="120.74" r="2.62"/><circle cx="588.89" cy="120.33" r="2.62"/><circle cx="592.36" cy="120.08" r="2.62"/><circle cx="595.42" cy="119.91" r="2.62"/><circle cx="598.16" cy="119.66" r="2.62"/><circle cx="616.17" cy="111.95" r="2.62"/><circle cx="626.7" cy="109.05" r="2.62"/><circle cx="634.18" cy="106.4" r="2.62"/><circle cx="639.97" cy="103.74" r="2.62"/><circle cx="644.71" cy="109.8" r="2.62"/><circle cx="648.71" cy="104.24" r="2.62"/><circle cx="652.18" cy="101.51" r="2.62"/><circle cx="655.24" cy="103.16" r="2.62"/><circle cx="657.98" cy="105.24" r="2.62"/><circle cx="675.99" cy="110.13" r="2.62"/><circle cx="686.52" cy="106.81" r="2.62"/><circle cx="694" cy="103.16" r="2.62"/><circle cx="699.79" cy="104.82" r="2.62"/><circle cx="704.53" cy="103.16" r="2.62"/><circle cx="708.53" cy="104.82" r="2.62"/><circle cx="712" cy="102.33" r="2.62"/><circle cx="715.06" cy="103.99" r="2.62"/><circle cx="717.8" cy="103.99" r="2.62"/></g>
<g fill="none" stroke="#000" stroke-width="1.35"><circle cx="418.7" cy="77.88" r="2.62"/><circle cx="436.71" cy="77.88" r="2.62"/><circle cx="447.24" cy="77.88" r="2.62"/><circle cx="454.72" cy="77.88" r="2.62"/><circle cx="460.51" cy="77.88" r="2.62"/><circle cx="465.25" cy="77.88" r="2.62"/><circle cx="469.25" cy="77.88" r="2.62"/><circle cx="472.72" cy="77.88" r="2.62"/><circle cx="475.78" cy="77.88" r="2.62"/><circle cx="478.52" cy="77.88" r="2.62"/><circle cx="496.53" cy="78.54" r="2.62"/><circle cx="507.06" cy="80.28" r="2.62"/><circle cx="514.54" cy="80.78" r="2.62"/><circle cx="520.33" cy="82.68" r="2.62"/><circle cx="525.07" cy="80.94" r="2.62"/><circle cx="529.07" cy="82.93" r="2.62"/><circle cx="532.54" cy="81.61" r="2.62"/><circle cx="535.6" cy="81.86" r="2.62"/><circle cx="538.34" cy="81.86" r="2.62"/><circle cx="556.35" cy="82.27" r="2.62"/><circle cx="566.88" cy="82.27" r="2.62"/><circle cx="574.36" cy="80.78" r="2.62"/><circle cx="580.15" cy="79.78" r="2.62"/><circle cx="584.89" cy="79.12" r="2.62"/><circle cx="588.89" cy="78.62" r="2.62"/><circle cx="592.36" cy="78.29" r="2.62"/><circle cx="595.42" cy="77.88" r="2.62"/><circle cx="598.16" cy="77.46" r="2.62"/><circle cx="616.17" cy="76.38" r="2.62"/><circle cx="626.7" cy="75.89" r="2.62"/><circle cx="634.18" cy="75.64" r="2.62"/><circle cx="639.97" cy="75.64" r="2.62"/><circle cx="644.71" cy="75.64" r="2.62"/><circle cx="648.71" cy="75.64" r="2.62"/><circle cx="652.18" cy="75.64" r="2.62"/><circle cx="655.24" cy="75.64" r="2.62"/><circle cx="657.98" cy="75.64" r="2.62"/><circle cx="675.99" cy="76.8" r="2.62"/><circle cx="686.52" cy="75.22" r="2.62"/><circle cx="694" cy="75.22" r="2.62"/><circle cx="699.79" cy="75.22" r="2.62"/><circle cx="704.53" cy="75.22" r="2.62"/><circle cx="708.53" cy="75.22" r="2.62"/><circle cx="712" cy="75.22" r="2.62"/><circle cx="715.06" cy="76.63" r="2.62"/><circle cx="717.8" cy="76.8" r="2.62"/></g>
<g fill="#0000ff" stroke="none"><circle cx="418.7" cy="174.47" r="1.85"/><circle cx="436.71" cy="174.47" r="1.85"/><circle cx="447.24" cy="174.47" r="1.85"/><circle cx="454.72" cy="174.47" r="1.85"/><circle cx="460.51" cy="174.47" r="1.85"/><circle cx="465.25" cy="174.88" r="1.85"/><circle cx="469.25" cy="175.13" r="1.85"/><circle cx="472.72" cy="174.8" r="1.85"/><circle cx="475.78" cy="174.64" r="1.85"/><circle cx="478.52" cy="174.64" r="1.85"/><circle cx="496.53" cy="175.3" r="1.85"/><circle cx="507.06" cy="176.05" r="1.85"/><circle cx="514.54" cy="176.63" r="1.85"/><circle cx="520.33" cy="177.12" r="1.85"/><circle cx="525.07" cy="177.79" r="1.85"/><circle cx="529.07" cy="178.2" r="1.85"/><circle cx="532.54" cy="178.62" r="1.85"/><circle cx="535.6" cy="179.11" r="1.85"/><circle cx="538.34" cy="179.53" r="1.85"/><circle cx="556.35" cy="181.1" r="1.85"/><circle cx="566.88" cy="180.61" r="1.85"/><circle cx="574.36" cy="179.45" r="1.85"/><circle cx="580.15" cy="178.45" r="1.85"/><circle cx="584.89" cy="179.45" r="1.85"/><circle cx="588.89" cy="179.45" r="1.85"/><circle cx="592.36" cy="187.4" r="1.85"/><circle cx="595.42" cy="184.83" r="1.85"/><circle cx="598.16" cy="182.76" r="1.85"/><circle cx="616.17" cy="162.28" r="1.85"/><circle cx="626.7" cy="157.06" r="1.85"/><circle cx="634.18" cy="149.6" r="1.85"/><circle cx="639.97" cy="148.35" r="1.85"/><circle cx="644.71" cy="146.11" r="1.85"/><circle cx="648.71" cy="146.11" r="1.85"/><circle cx="652.18" cy="144.62" r="1.85"/><circle cx="655.24" cy="142.96" r="1.85"/><circle cx="657.98" cy="142.13" r="1.85"/><circle cx="675.99" cy="141.8" r="1.85"/><circle cx="686.52" cy="146.61" r="1.85"/><circle cx="694" cy="139.65" r="1.85"/><circle cx="699.79" cy="138.4" r="1.85"/><circle cx="704.53" cy="134.67" r="1.85"/><circle cx="708.53" cy="137.16" r="1.85"/><circle cx="712" cy="138.82" r="1.85"/><circle cx="715.06" cy="138.82" r="1.85"/><circle cx="717.8" cy="138.4" r="1.85"/></g>
<g fill="#007f00" stroke="none"><circle cx="418.7" cy="120.08" r="1.85"/><circle cx="436.71" cy="120.08" r="1.85"/><circle cx="447.24" cy="120.08" r="1.85"/><circle cx="454.72" cy="120.08" r="1.85"/><circle cx="460.51" cy="120.08" r="1.85"/><circle cx="465.25" cy="120.08" r="1.85"/><circle cx="469.25" cy="120.08" r="1.85"/><circle cx="472.72" cy="120.08" r="1.85"/><circle cx="475.78" cy="120.08" r="1.85"/><circle cx="478.52" cy="120.08" r="1.85"/><circle cx="496.53" cy="120.74" r="1.85"/><circle cx="507.06" cy="122.23" r="1.85"/><circle cx="514.54" cy="120.08" r="1.85"/><circle cx="520.33" cy="120.58" r="1.85"/><circle cx="525.07" cy="122.48" r="1.85"/><circle cx="529.07" cy="122.73" r="1.85"/><circle cx="532.54" cy="122.23" r="1.85"/><circle cx="535.6" cy="123.81" r="1.85"/><circle cx="538.34" cy="124.06" r="1.85"/><circle cx="556.35" cy="124.47" r="1.85"/><circle cx="566.88" cy="124.06" r="1.85"/><circle cx="574.36" cy="122.57" r="1.85"/><circle cx="580.15" cy="121.41" r="1.85"/><circle cx="584.89" cy="120.74" r="1.85"/><circle cx="588.89" cy="120.33" r="1.85"/><circle cx="592.36" cy="120.08" r="1.85"/><circle cx="595.42" cy="119.91" r="1.85"/><circle cx="598.16" cy="119.66" r="1.85"/><circle cx="616.17" cy="111.95" r="1.85"/><circle cx="626.7" cy="108.97" r="1.85"/><circle cx="634.18" cy="110.79" r="1.85"/><circle cx="639.97" cy="111.46" r="1.85"/><circle cx="644.71" cy="107.48" r="1.85"/><circle cx="648.71" cy="105.24" r="1.85"/><circle cx="652.18" cy="107.48" r="1.85"/><circle cx="655.24" cy="108.55" r="1.85"/><circle cx="657.98" cy="106.48" r="1.85"/><circle cx="675.99" cy="107.48" r="1.85"/><circle cx="686.52" cy="107.48" r="1.85"/><circle cx="694" cy="108.14" r="1.85"/><circle cx="699.79" cy="105.24" r="1.85"/><circle cx="704.53" cy="104.82" r="1.85"/><circle cx="708.53" cy="106.48" r="1.85"/><circle cx="712" cy="103.16" r="1.85"/><circle cx="715.06" cy="104.82" r="1.85"/><circle cx="717.8" cy="105.24" r="1.85"/></g>
<g fill="#ff0000" stroke="none"><circle cx="418.7" cy="77.88" r="1.85"/><circle cx="436.71" cy="77.88" r="1.85"/><circle cx="447.24" cy="77.88" r="1.85"/><circle cx="454.72" cy="77.88" r="1.85"/><circle cx="460.51" cy="77.88" r="1.85"/><circle cx="465.25" cy="77.88" r="1.85"/><circle cx="469.25" cy="77.88" r="1.85"/><circle cx="472.72" cy="77.88" r="1.85"/><circle cx="475.78" cy="77.88" r="1.85"/><circle cx="478.52" cy="77.88" r="1.85"/><circle cx="496.53" cy="78.54" r="1.85"/><circle cx="507.06" cy="80.28" r="1.85"/><circle cx="514.54" cy="80.78" r="1.85"/><circle cx="520.33" cy="82.68" r="1.85"/><circle cx="525.07" cy="80.94" r="1.85"/><circle cx="529.07" cy="82.93" r="1.85"/><circle cx="532.54" cy="81.61" r="1.85"/><circle cx="535.6" cy="81.86" r="1.85"/><circle cx="538.34" cy="81.86" r="1.85"/><circle cx="556.35" cy="82.27" r="1.85"/><circle cx="566.88" cy="82.27" r="1.85"/><circle cx="574.36" cy="80.78" r="1.85"/><circle cx="580.15" cy="79.78" r="1.85"/><circle cx="584.89" cy="79.12" r="1.85"/><circle cx="588.89" cy="78.62" r="1.85"/><circle cx="592.36" cy="78.29" r="1.85"/><circle cx="595.42" cy="77.88" r="1.85"/><circle cx="598.16" cy="77.46" r="1.85"/><circle cx="616.17" cy="61.71" r="1.85"/><circle cx="626.7" cy="51.76" r="1.85"/><circle cx="634.18" cy="57.81" r="1.85"/><circle cx="639.97" cy="53.42" r="1.85"/><circle cx="644.71" cy="52.25" r="1.85"/><circle cx="648.71" cy="56.73" r="1.85"/><circle cx="652.18" cy="58.39" r="1.85"/><circle cx="655.24" cy="58.64" r="1.85"/><circle cx="657.98" cy="53.17" r="1.85"/><circle cx="675.99" cy="76.8" r="1.85"/><circle cx="686.52" cy="75.22" r="1.85"/><circle cx="694" cy="75.22" r="1.85"/><circle cx="699.79" cy="75.22" r="1.85"/><circle cx="708.53" cy="75.22" r="1.85"/><circle cx="715.06" cy="76.63" r="1.85"/></g>
<text x="565.3" y="337.1" font-size="13.5" text-anchor="middle">R (ohm)</text>
<text transform="translate(386.4,138) rotate(-90)" font-size="13.5" text-anchor="middle">Tip displacement (mm)</text>
<rect x="616.7" y="184.6" width="83.2" height="102.1" fill="#fff" stroke="#7c7c7c" stroke-width="1"/>
<path d="M620.8 194.5h19.6" stroke="#0000ff" stroke-width="1.3"/>
<circle cx="630.8" cy="194.5" r="2.85" fill="none" stroke="#000" stroke-width="1.35"/>
<text x="643" y="199" font-size="11">f=0.5 N/m<tspan dy="-4.9" font-size="7.3">2</tspan></text>
<path d="M620.8 211h19.6" stroke="#007f00" stroke-width="1.3"/>
<circle cx="630.8" cy="211" r="2.85" fill="none" stroke="#000" stroke-width="1.35"/>
<text x="643" y="215.5" font-size="11">f=1 N/m<tspan dy="-4.9" font-size="7.3">2</tspan></text>
<path d="M620.8 227.5h19.6" stroke="#ff0000" stroke-width="1.3"/>
<circle cx="630.8" cy="227.5" r="2.85" fill="none" stroke="#000" stroke-width="1.35"/>
<text x="643" y="232" font-size="11">f=1.5 N/m<tspan dy="-4.9" font-size="7.3">2</tspan></text>
<path d="M620.8 244h5.6m9.2 0h5.2" stroke="#0000ff" stroke-width="1.4"/>
<circle cx="630.8" cy="244" r="1.85" fill="#0000ff"/>
<text x="643" y="248.5" font-size="11">f=0.5 N/m<tspan dy="-4.9" font-size="7.3">2</tspan></text>
<path d="M620.8 260.5h5.6m9.2 0h5.2" stroke="#007f00" stroke-width="1.4"/>
<circle cx="630.8" cy="260.5" r="1.85" fill="#007f00"/>
<text x="643" y="265" font-size="11">f=1 N/m<tspan dy="-4.9" font-size="7.3">2</tspan></text>
<path d="M620.8 277h5.6m9.2 0h5.2" stroke="#ff0000" stroke-width="1.4"/>
<circle cx="630.8" cy="277" r="1.85" fill="#ff0000"/>
<text x="643" y="281.5" font-size="11">f=1.5 N/m<tspan dy="-4.9" font-size="7.3">2</tspan></text>
</g>
<g>
<rect x="42.7" y="397.5" width="298.8" height="291" fill="none" stroke="#7c7c7c" stroke-width="1"/>
<text x="34.57" y="703.9" font-size="11">10</text>
<text x="46.7" y="697.1" font-size="7.6">2</text>
<text x="94.33" y="703.9" font-size="11">10</text>
<text x="106.46" y="697.1" font-size="7.6">3</text>
<text x="154.09" y="703.9" font-size="11">10</text>
<text x="166.22" y="697.1" font-size="7.6">4</text>
<text x="213.85" y="703.9" font-size="11">10</text>
<text x="225.98" y="697.1" font-size="7.6">5</text>
<text x="273.61" y="703.9" font-size="11">10</text>
<text x="285.74" y="697.1" font-size="7.6">6</text>
<text x="333.37" y="703.9" font-size="11">10</text>
<text x="345.5" y="697.1" font-size="7.6">7</text>
<text x="38.3" y="692.9" font-size="11" text-anchor="end">0</text>
<text x="38.3" y="644.4" font-size="11" text-anchor="end">20</text>
<text x="38.3" y="595.9" font-size="11" text-anchor="end">40</text>
<text x="38.3" y="547.4" font-size="11" text-anchor="end">60</text>
<text x="38.3" y="498.9" font-size="11" text-anchor="end">80</text>
<text x="38.3" y="450.4" font-size="11" text-anchor="end">100</text>
<text x="38.3" y="401.9" font-size="11" text-anchor="end">120</text>
<path d="M42.7 688.5v-3M42.7 397.5v3M60.69 688.5v-1.6M60.69 397.5v1.6M71.21 688.5v-1.6M71.21 397.5v1.6M78.68 688.5v-1.6M78.68 397.5v1.6M84.47 688.5v-1.6M84.47 397.5v1.6M89.2 688.5v-1.6M89.2 397.5v1.6M93.2 688.5v-1.6M93.2 397.5v1.6M96.67 688.5v-1.6M96.67 397.5v1.6M99.73 688.5v-1.6M99.73 397.5v1.6M102.46 688.5v-3M102.46 397.5v3M120.45 688.5v-1.6M120.45 397.5v1.6M130.97 688.5v-1.6M130.97 397.5v1.6M138.44 688.5v-1.6M138.44 397.5v1.6M144.23 688.5v-1.6M144.23 397.5v1.6M148.96 688.5v-1.6M148.96 397.5v1.6M152.96 688.5v-1.6M152.96 397.5v1.6M156.43 688.5v-1.6M156.43 397.5v1.6M159.49 688.5v-1.6M159.49 397.5v1.6M162.22 688.5v-3M162.22 397.5v3M180.21 688.5v-1.6M180.21 397.5v1.6M190.73 688.5v-1.6M190.73 397.5v1.6M198.2 688.5v-1.6M198.2 397.5v1.6M203.99 688.5v-1.6M203.99 397.5v1.6M208.72 688.5v-1.6M208.72 397.5v1.6M212.72 688.5v-1.6M212.72 397.5v1.6M216.19 688.5v-1.6M216.19 397.5v1.6M219.25 688.5v-1.6M219.25 397.5v1.6M221.98 688.5v-3M221.98 397.5v3M239.97 688.5v-1.6M239.97 397.5v1.6M250.49 688.5v-1.6M250.49 397.5v1.6M257.96 688.5v-1.6M257.96 397.5v1.6M263.75 688.5v-1.6M263.75 397.5v1.6M268.48 688.5v-1.6M268.48 397.5v1.6M272.48 688.5v-1.6M272.48 397.5v1.6M275.95 688.5v-1.6M275.95 397.5v1.6M279.01 688.5v-1.6M279.01 397.5v1.6M281.74 688.5v-3M281.74 397.5v3M299.73 688.5v-1.6M299.73 397.5v1.6M310.25 688.5v-1.6M310.25 397.5v1.6M317.72 688.5v-1.6M317.72 397.5v1.6M323.51 688.5v-1.6M323.51 397.5v1.6M328.24 688.5v-1.6M328.24 397.5v1.6M332.24 688.5v-1.6M332.24 397.5v1.6M335.71 688.5v-1.6M335.71 397.5v1.6M338.77 688.5v-1.6M338.77 397.5v1.6M341.5 688.5v-3M341.5 397.5v3M42.7 688.5h3M341.5 688.5h-3M42.7 640h3M341.5 640h-3M42.7 591.5h3M341.5 591.5h-3M42.7 543h3M341.5 543h-3M42.7 494.5h3M341.5 494.5h-3M42.7 446h3M341.5 446h-3M42.7 397.5h3M341.5 397.5h-3" stroke="#7c7c7c" stroke-width="1" fill="none"/>
<polyline points="42.7,688.01 60.69,687.53 71.21,687.04 78.68,686.56 84.47,686.08 89.2,685.59 93.2,685.11 96.67,684.62 99.73,684.13 102.46,683.65 120.45,678.87 130.97,674.07 138.44,669.34 144.23,664.93 148.96,660.61 152.96,656.25 156.43,652.12 159.49,648 162.22,644.12 180.21,614.05 190.73,596.11 198.2,584.47 203.99,577.68 208.72,574.77 212.72,581.07 216.19,576.95 219.25,569.92 221.98,568.71 239.97,546.15 250.49,538.63 257.96,533.54 263.75,534.03 268.48,527.97 272.48,530.88 275.95,529.42 279.01,527.97 281.74,527.24 299.73,526.27 310.25,526.02 317.72,522.14 323.51,525.05 328.24,519.96 332.24,519.96 335.71,522.14 338.77,525.05 341.5,524.57" fill="none" stroke="#0000ff" stroke-width="1.3" stroke-linejoin="round"/>
<polyline points="42.7,687.82 60.69,687.09 71.21,686.37 78.68,685.64 84.47,684.94 89.2,684.21 93.2,683.48 96.67,682.8 99.73,682.07 102.46,681.39 120.45,674.43 130.97,667.72 138.44,660.76 144.23,654.16 148.96,647.83 152.96,641.46 156.43,635.39 159.49,629.57 162.22,623.75 180.21,578.89 190.73,552.21 198.2,536.21 203.99,526.51 208.72,520.2 212.72,516.08 216.19,513.17 219.25,510.75 221.98,508.56 239.97,496.68 250.49,491.35 257.96,490.38 263.75,491.11 268.48,492.8 272.48,488.44 275.95,487.71 279.01,485.53 281.74,488.68 299.73,492.8 310.25,489.41 317.72,486.01 323.51,487.23 328.24,486.01 332.24,487.95 335.71,485.04 338.77,486.98 341.5,486.25" fill="none" stroke="#007f00" stroke-width="1.3" stroke-linejoin="round"/>
<polyline points="42.7,687.65 60.69,686.78 71.21,685.91 78.68,685.01 84.47,684.21 89.2,683.29 93.2,682.41 96.67,681.64 99.73,680.74 102.46,679.87 120.45,671.28 130.97,662.79 138.44,654.4 144.23,646.55 148.96,638.3 152.96,630.91 156.43,623.02 159.49,615.75 162.22,608.72 180.21,552.65 190.73,520.96 198.2,499.59 203.99,487.95 208.72,480.19 212.72,475.34 216.19,471.71 219.25,469.04 221.98,467.1 239.97,460.31 250.49,458.61 257.96,458.12 263.75,457.4 268.48,457.4 272.48,457.4 275.95,457.4 279.01,457.15 281.74,457.15 299.73,458.85 310.25,456.91 317.72,457.15 323.51,457.15 328.24,457.15 332.24,457.15 335.71,457.15 338.77,458.61 341.5,458.85" fill="none" stroke="#ff0000" stroke-width="1.3" stroke-linejoin="round"/>
<polyline points="42.7,688.01 60.69,687.53 71.21,687.04 78.68,686.56 84.47,686.08 89.2,685.59 93.2,685.11 96.67,684.62 99.73,684.13 102.46,683.65 120.45,678.87 130.97,674.07 138.44,669.34 144.23,664.93 148.96,660.61 152.96,656.25 156.43,652.12 159.49,648 162.22,644.12 180.21,614.05 190.73,596.11 198.2,584.47 203.99,577.68 208.72,574.77 212.72,572.34 216.19,578.4 219.25,573.8 221.98,568.95 239.97,546.15 250.49,538.63 257.96,532.57 263.75,531.12 268.48,529.9 272.48,529.42 275.95,528.69 279.01,527.97 281.74,527 299.73,523.12 310.25,525.54 317.72,522.63 323.51,523.12 328.24,519.72 332.24,518.02 335.71,523.12 338.77,524.09 341.5,522.14" fill="none" stroke="#0000ff" stroke-width="1.4" stroke-dasharray="4.1 2.5" stroke-linejoin="round"/>
<polyline points="42.7,687.82 60.69,687.09 71.21,686.37 78.68,685.64 84.47,684.94 89.2,684.21 93.2,683.48 96.67,682.8 99.73,682.07 102.46,681.39 120.45,674.43 130.97,667.72 138.44,660.76 144.23,654.16 148.96,647.83 152.96,641.46 156.43,635.39 159.49,629.57 162.22,623.75 180.21,578.89 190.73,552.21 198.2,536.21 203.99,526.51 208.72,520.2 212.72,516.08 216.19,513.17 219.25,510.75 221.98,508.56 239.97,496.68 250.49,491.35 257.96,492.56 263.75,492.07 268.48,491.59 272.48,490.86 275.95,491.35 279.01,492.56 281.74,493.53 299.73,486.25 310.25,490.38 317.72,491.35 323.51,487.71 328.24,487.23 332.24,487.23 335.71,487.23 338.77,487.71 341.5,485.28" fill="none" stroke="#007f00" stroke-width="1.4" stroke-dasharray="4.1 2.5" stroke-linejoin="round"/>
<polyline points="42.7,687.65 60.69,686.78 71.21,685.91 78.68,685.01 84.47,684.21 89.2,683.29 93.2,682.41 96.67,681.64 99.73,680.74 102.46,679.87 120.45,671.28 130.97,662.79 138.44,654.4 144.23,646.55 148.96,638.3 152.96,630.91 156.43,623.02 159.49,615.75 162.22,608.72 180.21,552.65 190.73,520.96 198.2,499.59 203.99,487.95 208.72,480.19 212.72,475.34 216.19,471.71 219.25,469.04 221.98,467.1 239.97,441.39 250.49,439.21 257.96,430.96 263.75,434.36 268.48,434.12 272.48,435.57 275.95,452.79 279.01,439.45 281.74,434.6 299.73,458.85 310.25,456.91 317.72,457.15 323.51,457.15 332.24,457.15 338.77,458.61" fill="none" stroke="#ff0000" stroke-width="1.4" stroke-dasharray="4.1 2.5" stroke-linejoin="round"/>
<g fill="none" stroke="#000" stroke-width="1.35"><circle cx="42.7" cy="688.01" r="2.62"/><circle cx="60.69" cy="687.53" r="2.62"/><circle cx="71.21" cy="687.04" r="2.62"/><circle cx="78.68" cy="686.56" r="2.62"/><circle cx="84.47" cy="686.08" r="2.62"/><circle cx="89.2" cy="685.59" r="2.62"/><circle cx="93.2" cy="685.11" r="2.62"/><circle cx="96.67" cy="684.62" r="2.62"/><circle cx="99.73" cy="684.13" r="2.62"/><circle cx="102.46" cy="683.65" r="2.62"/><circle cx="120.45" cy="678.87" r="2.62"/><circle cx="130.97" cy="674.07" r="2.62"/><circle cx="138.44" cy="669.34" r="2.62"/><circle cx="144.23" cy="664.93" r="2.62"/><circle cx="148.96" cy="660.61" r="2.62"/><circle cx="152.96" cy="656.25" r="2.62"/><circle cx="156.43" cy="652.12" r="2.62"/><circle cx="159.49" cy="648" r="2.62"/><circle cx="162.22" cy="644.12" r="2.62"/><circle cx="180.21" cy="614.05" r="2.62"/><circle cx="190.73" cy="596.11" r="2.62"/><circle cx="198.2" cy="584.47" r="2.62"/><circle cx="203.99" cy="577.68" r="2.62"/><circle cx="208.72" cy="574.77" r="2.62"/><circle cx="212.72" cy="581.07" r="2.62"/><circle cx="216.19" cy="576.95" r="2.62"/><circle cx="219.25" cy="569.92" r="2.62"/><circle cx="221.98" cy="568.71" r="2.62"/><circle cx="239.97" cy="546.15" r="2.62"/><circle cx="250.49" cy="538.63" r="2.62"/><circle cx="257.96" cy="533.54" r="2.62"/><circle cx="263.75" cy="534.03" r="2.62"/><circle cx="268.48" cy="527.97" r="2.62"/><circle cx="272.48" cy="530.88" r="2.62"/><circle cx="275.95" cy="529.42" r="2.62"/><circle cx="279.01" cy="527.97" r="2.62"/><circle cx="281.74" cy="527.24" r="2.62"/><circle cx="299.73" cy="526.27" r="2.62"/><circle cx="310.25" cy="526.02" r="2.62"/><circle cx="317.72" cy="522.14" r="2.62"/><circle cx="323.51" cy="525.05" r="2.62"/><circle cx="328.24" cy="519.96" r="2.62"/><circle cx="332.24" cy="519.96" r="2.62"/><circle cx="335.71" cy="522.14" r="2.62"/><circle cx="338.77" cy="525.05" r="2.62"/><circle cx="341.5" cy="524.57" r="2.62"/></g>
<g fill="none" stroke="#000" stroke-width="1.35"><circle cx="42.7" cy="687.82" r="2.62"/><circle cx="60.69" cy="687.09" r="2.62"/><circle cx="71.21" cy="686.37" r="2.62"/><circle cx="78.68" cy="685.64" r="2.62"/><circle cx="84.47" cy="684.94" r="2.62"/><circle cx="89.2" cy="684.21" r="2.62"/><circle cx="93.2" cy="683.48" r="2.62"/><circle cx="96.67" cy="682.8" r="2.62"/><circle cx="99.73" cy="682.07" r="2.62"/><circle cx="102.46" cy="681.39" r="2.62"/><circle cx="120.45" cy="674.43" r="2.62"/><circle cx="130.97" cy="667.72" r="2.62"/><circle cx="138.44" cy="660.76" r="2.62"/><circle cx="144.23" cy="654.16" r="2.62"/><circle cx="148.96" cy="647.83" r="2.62"/><circle cx="152.96" cy="641.46" r="2.62"/><circle cx="156.43" cy="635.39" r="2.62"/><circle cx="159.49" cy="629.57" r="2.62"/><circle cx="162.22" cy="623.75" r="2.62"/><circle cx="180.21" cy="578.89" r="2.62"/><circle cx="190.73" cy="552.21" r="2.62"/><circle cx="198.2" cy="536.21" r="2.62"/><circle cx="203.99" cy="526.51" r="2.62"/><circle cx="208.72" cy="520.2" r="2.62"/><circle cx="212.72" cy="516.08" r="2.62"/><circle cx="216.19" cy="513.17" r="2.62"/><circle cx="219.25" cy="510.75" r="2.62"/><circle cx="221.98" cy="508.56" r="2.62"/><circle cx="239.97" cy="496.68" r="2.62"/><circle cx="250.49" cy="491.35" r="2.62"/><circle cx="257.96" cy="490.38" r="2.62"/><circle cx="263.75" cy="491.11" r="2.62"/><circle cx="268.48" cy="492.8" r="2.62"/><circle cx="272.48" cy="488.44" r="2.62"/><circle cx="275.95" cy="487.71" r="2.62"/><circle cx="279.01" cy="485.53" r="2.62"/><circle cx="281.74" cy="488.68" r="2.62"/><circle cx="299.73" cy="492.8" r="2.62"/><circle cx="310.25" cy="489.41" r="2.62"/><circle cx="317.72" cy="486.01" r="2.62"/><circle cx="323.51" cy="487.23" r="2.62"/><circle cx="328.24" cy="486.01" r="2.62"/><circle cx="332.24" cy="487.95" r="2.62"/><circle cx="335.71" cy="485.04" r="2.62"/><circle cx="338.77" cy="486.98" r="2.62"/><circle cx="341.5" cy="486.25" r="2.62"/></g>
<g fill="none" stroke="#000" stroke-width="1.35"><circle cx="42.7" cy="687.65" r="2.62"/><circle cx="60.69" cy="686.78" r="2.62"/><circle cx="71.21" cy="685.91" r="2.62"/><circle cx="78.68" cy="685.01" r="2.62"/><circle cx="84.47" cy="684.21" r="2.62"/><circle cx="89.2" cy="683.29" r="2.62"/><circle cx="93.2" cy="682.41" r="2.62"/><circle cx="96.67" cy="681.64" r="2.62"/><circle cx="99.73" cy="680.74" r="2.62"/><circle cx="102.46" cy="679.87" r="2.62"/><circle cx="120.45" cy="671.28" r="2.62"/><circle cx="130.97" cy="662.79" r="2.62"/><circle cx="138.44" cy="654.4" r="2.62"/><circle cx="144.23" cy="646.55" r="2.62"/><circle cx="148.96" cy="638.3" r="2.62"/><circle cx="152.96" cy="630.91" r="2.62"/><circle cx="156.43" cy="623.02" r="2.62"/><circle cx="159.49" cy="615.75" r="2.62"/><circle cx="162.22" cy="608.72" r="2.62"/><circle cx="180.21" cy="552.65" r="2.62"/><circle cx="190.73" cy="520.96" r="2.62"/><circle cx="198.2" cy="499.59" r="2.62"/><circle cx="203.99" cy="487.95" r="2.62"/><circle cx="208.72" cy="480.19" r="2.62"/><circle cx="212.72" cy="475.34" r="2.62"/><circle cx="216.19" cy="471.71" r="2.62"/><circle cx="219.25" cy="469.04" r="2.62"/><circle cx="221.98" cy="467.1" r="2.62"/><circle cx="239.97" cy="460.31" r="2.62"/><circle cx="250.49" cy="458.61" r="2.62"/><circle cx="257.96" cy="458.12" r="2.62"/><circle cx="263.75" cy="457.4" r="2.62"/><circle cx="268.48" cy="457.4" r="2.62"/><circle cx="272.48" cy="457.4" r="2.62"/><circle cx="275.95" cy="457.4" r="2.62"/><circle cx="279.01" cy="457.15" r="2.62"/><circle cx="281.74" cy="457.15" r="2.62"/><circle cx="299.73" cy="458.85" r="2.62"/><circle cx="310.25" cy="456.91" r="2.62"/><circle cx="317.72" cy="457.15" r="2.62"/><circle cx="323.51" cy="457.15" r="2.62"/><circle cx="328.24" cy="457.15" r="2.62"/><circle cx="332.24" cy="457.15" r="2.62"/><circle cx="335.71" cy="457.15" r="2.62"/><circle cx="338.77" cy="458.61" r="2.62"/><circle cx="341.5" cy="458.85" r="2.62"/></g>
<g fill="#0000ff" stroke="none"><circle cx="42.7" cy="688.01" r="1.85"/><circle cx="60.69" cy="687.53" r="1.85"/><circle cx="71.21" cy="687.04" r="1.85"/><circle cx="78.68" cy="686.56" r="1.85"/><circle cx="84.47" cy="686.08" r="1.85"/><circle cx="89.2" cy="685.59" r="1.85"/><circle cx="93.2" cy="685.11" r="1.85"/><circle cx="96.67" cy="684.62" r="1.85"/><circle cx="99.73" cy="684.13" r="1.85"/><circle cx="102.46" cy="683.65" r="1.85"/><circle cx="120.45" cy="678.87" r="1.85"/><circle cx="130.97" cy="674.07" r="1.85"/><circle cx="138.44" cy="669.34" r="1.85"/><circle cx="144.23" cy="664.93" r="1.85"/><circle cx="148.96" cy="660.61" r="1.85"/><circle cx="152.96" cy="656.25" r="1.85"/><circle cx="156.43" cy="652.12" r="1.85"/><circle cx="159.49" cy="648" r="1.85"/><circle cx="162.22" cy="644.12" r="1.85"/><circle cx="180.21" cy="614.05" r="1.85"/><circle cx="190.73" cy="596.11" r="1.85"/><circle cx="198.2" cy="584.47" r="1.85"/><circle cx="203.99" cy="577.68" r="1.85"/><circle cx="208.72" cy="574.77" r="1.85"/><circle cx="212.72" cy="572.34" r="1.85"/><circle cx="216.19" cy="578.4" r="1.85"/><circle cx="219.25" cy="573.8" r="1.85"/><circle cx="221.98" cy="568.95" r="1.85"/><circle cx="239.97" cy="546.15" r="1.85"/><circle cx="250.49" cy="538.63" r="1.85"/><circle cx="257.96" cy="532.57" r="1.85"/><circle cx="263.75" cy="531.12" r="1.85"/><circle cx="268.48" cy="529.9" r="1.85"/><circle cx="272.48" cy="529.42" r="1.85"/><circle cx="275.95" cy="528.69" r="1.85"/><circle cx="279.01" cy="527.97" r="1.85"/><circle cx="281.74" cy="527" r="1.85"/><circle cx="299.73" cy="523.12" r="1.85"/><circle cx="310.25" cy="525.54" r="1.85"/><circle cx="317.72" cy="522.63" r="1.85"/><circle cx="323.51" cy="523.12" r="1.85"/><circle cx="328.24" cy="519.72" r="1.85"/><circle cx="332.24" cy="518.02" r="1.85"/><circle cx="335.71" cy="523.12" r="1.85"/><circle cx="338.77" cy="524.09" r="1.85"/><circle cx="341.5" cy="522.14" r="1.85"/></g>
<g fill="#007f00" stroke="none"><circle cx="42.7" cy="687.82" r="1.85"/><circle cx="60.69" cy="687.09" r="1.85"/><circle cx="71.21" cy="686.37" r="1.85"/><circle cx="78.68" cy="685.64" r="1.85"/><circle cx="84.47" cy="684.94" r="1.85"/><circle cx="89.2" cy="684.21" r="1.85"/><circle cx="93.2" cy="683.48" r="1.85"/><circle cx="96.67" cy="682.8" r="1.85"/><circle cx="99.73" cy="682.07" r="1.85"/><circle cx="102.46" cy="681.39" r="1.85"/><circle cx="120.45" cy="674.43" r="1.85"/><circle cx="130.97" cy="667.72" r="1.85"/><circle cx="138.44" cy="660.76" r="1.85"/><circle cx="144.23" cy="654.16" r="1.85"/><circle cx="148.96" cy="647.83" r="1.85"/><circle cx="152.96" cy="641.46" r="1.85"/><circle cx="156.43" cy="635.39" r="1.85"/><circle cx="159.49" cy="629.57" r="1.85"/><circle cx="162.22" cy="623.75" r="1.85"/><circle cx="180.21" cy="578.89" r="1.85"/><circle cx="190.73" cy="552.21" r="1.85"/><circle cx="198.2" cy="536.21" r="1.85"/><circle cx="203.99" cy="526.51" r="1.85"/><circle cx="208.72" cy="520.2" r="1.85"/><circle cx="212.72" cy="516.08" r="1.85"/><circle cx="216.19" cy="513.17" r="1.85"/><circle cx="219.25" cy="510.75" r="1.85"/><circle cx="221.98" cy="508.56" r="1.85"/><circle cx="239.97" cy="496.68" r="1.85"/><circle cx="250.49" cy="491.35" r="1.85"/><circle cx="257.96" cy="492.56" r="1.85"/><circle cx="263.75" cy="492.07" r="1.85"/><circle cx="268.48" cy="491.59" r="1.85"/><circle cx="272.48" cy="490.86" r="1.85"/><circle cx="275.95" cy="491.35" r="1.85"/><circle cx="279.01" cy="492.56" r="1.85"/><circle cx="281.74" cy="493.53" r="1.85"/><circle cx="299.73" cy="486.25" r="1.85"/><circle cx="310.25" cy="490.38" r="1.85"/><circle cx="317.72" cy="491.35" r="1.85"/><circle cx="323.51" cy="487.71" r="1.85"/><circle cx="328.24" cy="487.23" r="1.85"/><circle cx="332.24" cy="487.23" r="1.85"/><circle cx="335.71" cy="487.23" r="1.85"/><circle cx="338.77" cy="487.71" r="1.85"/><circle cx="341.5" cy="485.28" r="1.85"/></g>
<g fill="#ff0000" stroke="none"><circle cx="42.7" cy="687.65" r="1.85"/><circle cx="60.69" cy="686.78" r="1.85"/><circle cx="71.21" cy="685.91" r="1.85"/><circle cx="78.68" cy="685.01" r="1.85"/><circle cx="84.47" cy="684.21" r="1.85"/><circle cx="89.2" cy="683.29" r="1.85"/><circle cx="93.2" cy="682.41" r="1.85"/><circle cx="96.67" cy="681.64" r="1.85"/><circle cx="99.73" cy="680.74" r="1.85"/><circle cx="102.46" cy="679.87" r="1.85"/><circle cx="120.45" cy="671.28" r="1.85"/><circle cx="130.97" cy="662.79" r="1.85"/><circle cx="138.44" cy="654.4" r="1.85"/><circle cx="144.23" cy="646.55" r="1.85"/><circle cx="148.96" cy="638.3" r="1.85"/><circle cx="152.96" cy="630.91" r="1.85"/><circle cx="156.43" cy="623.02" r="1.85"/><circle cx="159.49" cy="615.75" r="1.85"/><circle cx="162.22" cy="608.72" r="1.85"/><circle cx="180.21" cy="552.65" r="1.85"/><circle cx="190.73" cy="520.96" r="1.85"/><circle cx="198.2" cy="499.59" r="1.85"/><circle cx="203.99" cy="487.95" r="1.85"/><circle cx="208.72" cy="480.19" r="1.85"/><circle cx="212.72" cy="475.34" r="1.85"/><circle cx="216.19" cy="471.71" r="1.85"/><circle cx="219.25" cy="469.04" r="1.85"/><circle cx="221.98" cy="467.1" r="1.85"/><circle cx="239.97" cy="441.39" r="1.85"/><circle cx="250.49" cy="439.21" r="1.85"/><circle cx="257.96" cy="430.96" r="1.85"/><circle cx="263.75" cy="434.36" r="1.85"/><circle cx="268.48" cy="434.12" r="1.85"/><circle cx="272.48" cy="435.57" r="1.85"/><circle cx="275.95" cy="452.79" r="1.85"/><circle cx="279.01" cy="439.45" r="1.85"/><circle cx="281.74" cy="434.6" r="1.85"/><circle cx="299.73" cy="458.85" r="1.85"/><circle cx="310.25" cy="456.91" r="1.85"/><circle cx="317.72" cy="457.15" r="1.85"/><circle cx="323.51" cy="457.15" r="1.85"/><circle cx="332.24" cy="457.15" r="1.85"/><circle cx="338.77" cy="458.61" r="1.85"/></g>
<text x="187.2" y="722.6" font-size="13.5" text-anchor="middle">R (ohm)</text>
<text transform="translate(10,543.1) rotate(-90)" font-size="13.5" text-anchor="middle">Voltage (V)</text>
<rect x="55.7" y="410.7" width="83.1" height="101.9" fill="#fff" stroke="#7c7c7c" stroke-width="1"/>
<path d="M59.8 420.6h19.6" stroke="#0000ff" stroke-width="1.3"/>
<circle cx="69.8" cy="420.6" r="2.85" fill="none" stroke="#000" stroke-width="1.35"/>
<text x="82" y="425.1" font-size="11">f=0.5 N/m<tspan dy="-4.9" font-size="7.3">2</tspan></text>
<path d="M59.8 437.1h19.6" stroke="#007f00" stroke-width="1.3"/>
<circle cx="69.8" cy="437.1" r="2.85" fill="none" stroke="#000" stroke-width="1.35"/>
<text x="82" y="441.6" font-size="11">f=1 N/m<tspan dy="-4.9" font-size="7.3">2</tspan></text>
<path d="M59.8 453.6h19.6" stroke="#ff0000" stroke-width="1.3"/>
<circle cx="69.8" cy="453.6" r="2.85" fill="none" stroke="#000" stroke-width="1.35"/>
<text x="82" y="458.1" font-size="11">f=1.5 N/m<tspan dy="-4.9" font-size="7.3">2</tspan></text>
<path d="M59.8 470.1h5.6m9.2 0h5.2" stroke="#0000ff" stroke-width="1.4"/>
<circle cx="69.8" cy="470.1" r="1.85" fill="#0000ff"/>
<text x="82" y="474.6" font-size="11">f=0.5 N/m<tspan dy="-4.9" font-size="7.3">2</tspan></text>
<path d="M59.8 486.6h5.6m9.2 0h5.2" stroke="#007f00" stroke-width="1.4"/>
<circle cx="69.8" cy="486.6" r="1.85" fill="#007f00"/>
<text x="82" y="491.1" font-size="11">f=1 N/m<tspan dy="-4.9" font-size="7.3">2</tspan></text>
<path d="M59.8 503.1h5.6m9.2 0h5.2" stroke="#ff0000" stroke-width="1.4"/>
<circle cx="69.8" cy="503.1" r="1.85" fill="#ff0000"/>
<text x="82" y="507.6" font-size="11">f=1.5 N/m<tspan dy="-4.9" font-size="7.3">2</tspan></text>
</g>
<g>
<rect x="413" y="399" width="299.5" height="290.3" fill="none" stroke="#7c7c7c" stroke-width="1"/>
<text x="404.87" y="704.7" font-size="11">10</text>
<text x="417" y="697.9" font-size="7.6">2</text>
<text x="464.77" y="704.7" font-size="11">10</text>
<text x="476.9" y="697.9" font-size="7.6">3</text>
<text x="524.67" y="704.7" font-size="11">10</text>
<text x="536.8" y="697.9" font-size="7.6">4</text>
<text x="584.57" y="704.7" font-size="11">10</text>
<text x="596.7" y="697.9" font-size="7.6">5</text>
<text x="644.47" y="704.7" font-size="11">10</text>
<text x="656.6" y="697.9" font-size="7.6">6</text>
<text x="704.37" y="704.7" font-size="11">10</text>
<text x="716.5" y="697.9" font-size="7.6">7</text>
<text x="408.6" y="693.7" font-size="11" text-anchor="end">0</text>
<text x="408.6" y="661.44" font-size="11" text-anchor="end">0.02</text>
<text x="408.6" y="629.19" font-size="11" text-anchor="end">0.04</text>
<text x="408.6" y="596.93" font-size="11" text-anchor="end">0.06</text>
<text x="408.6" y="564.68" font-size="11" text-anchor="end">0.08</text>
<text x="408.6" y="532.42" font-size="11" text-anchor="end">0.1</text>
<text x="408.6" y="500.17" font-size="11" text-anchor="end">0.12</text>
<text x="408.6" y="467.91" font-size="11" text-anchor="end">0.14</text>
<text x="408.6" y="435.66" font-size="11" text-anchor="end">0.16</text>
<text x="408.6" y="403.4" font-size="11" text-anchor="end">0.18</text>
<path d="M413 689.3v-3M413 399v3M431.03 689.3v-1.6M431.03 399v1.6M441.58 689.3v-1.6M441.58 399v1.6M449.06 689.3v-1.6M449.06 399v1.6M454.87 689.3v-1.6M454.87 399v1.6M459.61 689.3v-1.6M459.61 399v1.6M463.62 689.3v-1.6M463.62 399v1.6M467.1 689.3v-1.6M467.1 399v1.6M470.16 689.3v-1.6M470.16 399v1.6M472.9 689.3v-3M472.9 399v3M490.93 689.3v-1.6M490.93 399v1.6M501.48 689.3v-1.6M501.48 399v1.6M508.96 689.3v-1.6M508.96 399v1.6M514.77 689.3v-1.6M514.77 399v1.6M519.51 689.3v-1.6M519.51 399v1.6M523.52 689.3v-1.6M523.52 399v1.6M527 689.3v-1.6M527 399v1.6M530.06 689.3v-1.6M530.06 399v1.6M532.8 689.3v-3M532.8 399v3M550.83 689.3v-1.6M550.83 399v1.6M561.38 689.3v-1.6M561.38 399v1.6M568.86 689.3v-1.6M568.86 399v1.6M574.67 689.3v-1.6M574.67 399v1.6M579.41 689.3v-1.6M579.41 399v1.6M583.42 689.3v-1.6M583.42 399v1.6M586.9 689.3v-1.6M586.9 399v1.6M589.96 689.3v-1.6M589.96 399v1.6M592.7 689.3v-3M592.7 399v3M610.73 689.3v-1.6M610.73 399v1.6M621.28 689.3v-1.6M621.28 399v1.6M628.76 689.3v-1.6M628.76 399v1.6M634.57 689.3v-1.6M634.57 399v1.6M639.31 689.3v-1.6M639.31 399v1.6M643.32 689.3v-1.6M643.32 399v1.6M646.8 689.3v-1.6M646.8 399v1.6M649.86 689.3v-1.6M649.86 399v1.6M652.6 689.3v-3M652.6 399v3M670.63 689.3v-1.6M670.63 399v1.6M681.18 689.3v-1.6M681.18 399v1.6M688.66 689.3v-1.6M688.66 399v1.6M694.47 689.3v-1.6M694.47 399v1.6M699.21 689.3v-1.6M699.21 399v1.6M703.22 689.3v-1.6M703.22 399v1.6M706.7 689.3v-1.6M706.7 399v1.6M709.76 689.3v-1.6M709.76 399v1.6M712.5 689.3v-3M712.5 399v3M413 689.3h3M712.5 689.3h-3M413 657.04h3M712.5 657.04h-3M413 624.79h3M712.5 624.79h-3M413 592.53h3M712.5 592.53h-3M413 560.28h3M712.5 560.28h-3M413 528.02h3M712.5 528.02h-3M413 495.77h3M712.5 495.77h-3M413 463.51h3M712.5 463.51h-3M413 431.26h3M712.5 431.26h-3M413 399h3M712.5 399h-3" stroke="#7c7c7c" stroke-width="1" fill="none"/>
<polyline points="413,688.65 431.03,688.01 441.58,687.36 449.06,686.72 454.87,686.07 459.61,685.43 463.62,684.78 467.1,684.14 470.16,683.49 472.9,682.85 490.93,676.59 501.48,670.27 508.96,664.14 514.77,658.83 519.51,653.75 523.52,648.55 527,643.94 530.06,639.32 532.8,635.29 550.83,613.3 561.38,611.26 568.86,615.1 574.67,621.93 579.41,630.18 583.42,644.08 586.9,646.64 589.96,646.45 592.7,649.94 610.73,661.51 621.28,668.77 628.76,672.84 634.57,676.21 639.31,677.52 643.32,679.57 646.8,680.62 649.86,681.45 652.6,682.17 670.63,685.69 681.18,686.89 688.66,687.4 694.47,687.83 699.21,688 703.22,688.19 706.7,688.35 709.76,688.49 712.5,688.56" fill="none" stroke="#0000ff" stroke-width="1.3" stroke-linejoin="round"/>
<polyline points="413,688.04 431.03,686.59 441.58,685.14 449.06,683.69 454.87,682.33 459.61,680.88 463.62,679.43 467.1,678.17 470.16,676.72 472.9,675.45 490.93,662.17 501.48,649.82 508.96,636.53 514.77,624.63 519.51,613.71 523.52,602.59 527,592.61 530.06,583.49 532.8,574.33 550.83,524.55 561.38,519.5 568.86,530.29 574.67,545.37 579.41,559.84 583.42,572.83 586.9,583.92 589.96,593.02 592.7,600.51 610.73,638.85 621.28,653.77 628.76,662.39 634.57,667.93 639.31,671.79 643.32,673.62 646.8,675.48 649.86,676.75 652.6,678.35 670.63,684.05 681.18,685.68 688.66,686.49 694.47,687.08 699.21,687.43 703.22,687.72 706.7,687.88 709.76,688.06 712.5,688.18" fill="none" stroke="#007f00" stroke-width="1.3" stroke-linejoin="round"/>
<polyline points="413,687.32 431.03,685.23 441.58,683.15 449.06,680.94 454.87,679.19 459.61,676.87 463.62,674.78 467.1,673.15 470.16,670.95 472.9,668.86 490.93,648.65 501.48,628.9 508.96,609.6 514.77,592.76 519.51,574.12 523.52,559.34 527,542.34 530.06,528.02 532.8,514.73 550.83,436.24 561.38,432.68 568.86,444.63 574.67,468.69 579.41,490.96 583.42,511.29 586.9,528.18 589.96,542.53 592.7,554.86 610.73,617.9 621.28,640.99 628.76,652.91 634.57,660.01 639.31,664.89 643.32,668.38 646.8,670.99 649.86,672.99 652.6,674.62 670.63,682.07 681.18,684.4 688.66,685.63 694.47,686.36 699.21,686.85 703.22,687.2 706.7,687.47 709.76,687.69 712.5,687.85" fill="none" stroke="#ff0000" stroke-width="1.3" stroke-linejoin="round"/>
<polyline points="413,688.65 431.03,688.01 441.58,687.36 449.06,686.72 454.87,686.07 459.61,685.43 463.62,684.78 467.1,684.14 470.16,683.49 472.9,682.85 490.93,676.59 501.48,670.27 508.96,664.14 514.77,658.83 519.51,653.75 523.52,648.55 527,643.94 530.06,639.32 532.8,635.29 550.83,613.3 561.38,611.26 568.86,615.1 574.67,621.93 579.41,630.18 583.42,636.44 586.9,647.75 589.96,649.21 592.7,650.1 610.73,661.51 621.28,668.77 628.76,672.63 634.57,675.71 639.31,677.8 643.32,679.39 646.8,680.55 649.86,681.45 652.6,682.15 670.63,685.55 681.18,686.87 688.66,687.41 694.47,687.8 699.21,688 703.22,688.16 706.7,688.36 709.76,688.48 712.5,688.54" fill="none" stroke="#0000ff" stroke-width="1.4" stroke-dasharray="4.1 2.5" stroke-linejoin="round"/>
<polyline points="413,688.04 431.03,686.59 441.58,685.14 449.06,683.69 454.87,682.33 459.61,680.88 463.62,679.43 467.1,678.17 470.16,676.72 472.9,675.45 490.93,662.17 501.48,649.82 508.96,636.53 514.77,624.63 519.51,613.71 523.52,602.59 527,592.61 530.06,583.49 532.8,574.33 550.83,524.55 561.38,519.5 568.86,530.29 574.67,545.37 579.41,559.84 583.42,572.83 586.9,583.92 589.96,593.02 592.7,600.51 610.73,638.85 621.28,653.77 628.76,662.98 634.57,668.14 639.31,671.58 643.32,674 646.8,675.98 649.86,677.6 652.6,678.87 670.63,683.69 681.18,685.71 688.66,686.64 694.47,687.09 699.21,687.45 703.22,687.71 706.7,687.91 709.76,688.07 712.5,688.17" fill="none" stroke="#007f00" stroke-width="1.4" stroke-dasharray="4.1 2.5" stroke-linejoin="round"/>
<polyline points="413,687.32 431.03,685.23 441.58,683.15 449.06,680.94 454.87,679.19 459.61,676.87 463.62,674.78 467.1,673.15 470.16,670.95 472.9,668.86 490.93,648.65 501.48,628.9 508.96,609.6 514.77,592.76 519.51,574.12 523.52,559.34 527,542.34 530.06,528.02 532.8,514.73 550.83,436.24 561.38,432.68 568.86,444.63 574.67,468.69 579.41,490.96 583.42,511.29 586.9,528.18 589.96,542.53 592.7,554.86 610.73,605.57 621.28,632.49 628.76,643.83 634.57,653.87 639.31,659.72 643.32,664.24 646.8,670.25 649.86,670.4 652.6,671.62 670.63,682.07 681.18,684.4 688.66,685.63 694.47,686.36 703.22,687.2 709.76,687.69" fill="none" stroke="#ff0000" stroke-width="1.4" stroke-dasharray="4.1 2.5" stroke-linejoin="round"/>
<g fill="none" stroke="#000" stroke-width="1.35"><circle cx="413" cy="688.65" r="2.62"/><circle cx="431.03" cy="688.01" r="2.62"/><circle cx="441.58" cy="687.36" r="2.62"/><circle cx="449.06" cy="686.72" r="2.62"/><circle cx="454.87" cy="686.07" r="2.62"/><circle cx="459.61" cy="685.43" r="2.62"/><circle cx="463.62" cy="684.78" r="2.62"/><circle cx="467.1" cy="684.14" r="2.62"/><circle cx="470.16" cy="683.49" r="2.62"/><circle cx="472.9" cy="682.85" r="2.62"/><circle cx="490.93" cy="676.59" r="2.62"/><circle cx="501.48" cy="670.27" r="2.62"/><circle cx="508.96" cy="664.14" r="2.62"/><circle cx="514.77" cy="658.83" r="2.62"/><circle cx="519.51" cy="653.75" r="2.62"/><circle cx="523.52" cy="648.55" r="2.62"/><circle cx="527" cy="643.94" r="2.62"/><circle cx="530.06" cy="639.32" r="2.62"/><circle cx="532.8" cy="635.29" r="2.62"/><circle cx="550.83" cy="613.3" r="2.62"/><circle cx="561.38" cy="611.26" r="2.62"/><circle cx="568.86" cy="615.1" r="2.62"/><circle cx="574.67" cy="621.93" r="2.62"/><circle cx="579.41" cy="630.18" r="2.62"/><circle cx="583.42" cy="644.08" r="2.62"/><circle cx="586.9" cy="646.64" r="2.62"/><circle cx="589.96" cy="646.45" r="2.62"/><circle cx="592.7" cy="649.94" r="2.62"/><circle cx="610.73" cy="661.51" r="2.62"/><circle cx="621.28" cy="668.77" r="2.62"/><circle cx="628.76" cy="672.84" r="2.62"/><circle cx="634.57" cy="676.21" r="2.62"/><circle cx="639.31" cy="677.52" r="2.62"/><circle cx="643.32" cy="679.57" r="2.62"/><circle cx="646.8" cy="680.62" r="2.62"/><circle cx="649.86" cy="681.45" r="2.62"/><circle cx="652.6" cy="682.17" r="2.62"/><circle cx="670.63" cy="685.69" r="2.62"/><circle cx="681.18" cy="686.89" r="2.62"/><circle cx="688.66" cy="687.4" r="2.62"/><circle cx="694.47" cy="687.83" r="2.62"/><circle cx="699.21" cy="688" r="2.62"/><circle cx="703.22" cy="688.19" r="2.62"/><circle cx="706.7" cy="688.35" r="2.62"/><circle cx="709.76" cy="688.49" r="2.62"/><circle cx="712.5" cy="688.56" r="2.62"/></g>
<g fill="none" stroke="#000" stroke-width="1.35"><circle cx="413" cy="688.04" r="2.62"/><circle cx="431.03" cy="686.59" r="2.62"/><circle cx="441.58" cy="685.14" r="2.62"/><circle cx="449.06" cy="683.69" r="2.62"/><circle cx="454.87" cy="682.33" r="2.62"/><circle cx="459.61" cy="680.88" r="2.62"/><circle cx="463.62" cy="679.43" r="2.62"/><circle cx="467.1" cy="678.17" r="2.62"/><circle cx="470.16" cy="676.72" r="2.62"/><circle cx="472.9" cy="675.45" r="2.62"/><circle cx="490.93" cy="662.17" r="2.62"/><circle cx="501.48" cy="649.82" r="2.62"/><circle cx="508.96" cy="636.53" r="2.62"/><circle cx="514.77" cy="624.63" r="2.62"/><circle cx="519.51" cy="613.71" r="2.62"/><circle cx="523.52" cy="602.59" r="2.62"/><circle cx="527" cy="592.61" r="2.62"/><circle cx="530.06" cy="583.49" r="2.62"/><circle cx="532.8" cy="574.33" r="2.62"/><circle cx="550.83" cy="524.55" r="2.62"/><circle cx="561.38" cy="519.5" r="2.62"/><circle cx="568.86" cy="530.29" r="2.62"/><circle cx="574.67" cy="545.37" r="2.62"/><circle cx="579.41" cy="559.84" r="2.62"/><circle cx="583.42" cy="572.83" r="2.62"/><circle cx="586.9" cy="583.92" r="2.62"/><circle cx="589.96" cy="593.02" r="2.62"/><circle cx="592.7" cy="600.51" r="2.62"/><circle cx="610.73" cy="638.85" r="2.62"/><circle cx="621.28" cy="653.77" r="2.62"/><circle cx="628.76" cy="662.39" r="2.62"/><circle cx="634.57" cy="667.93" r="2.62"/><circle cx="639.31" cy="671.79" r="2.62"/><circle cx="643.32" cy="673.62" r="2.62"/><circle cx="646.8" cy="675.48" r="2.62"/><circle cx="649.86" cy="676.75" r="2.62"/><circle cx="652.6" cy="678.35" r="2.62"/><circle cx="670.63" cy="684.05" r="2.62"/><circle cx="681.18" cy="685.68" r="2.62"/><circle cx="688.66" cy="686.49" r="2.62"/><circle cx="694.47" cy="687.08" r="2.62"/><circle cx="699.21" cy="687.43" r="2.62"/><circle cx="703.22" cy="687.72" r="2.62"/><circle cx="706.7" cy="687.88" r="2.62"/><circle cx="709.76" cy="688.06" r="2.62"/><circle cx="712.5" cy="688.18" r="2.62"/></g>
<g fill="none" stroke="#000" stroke-width="1.35"><circle cx="413" cy="687.32" r="2.62"/><circle cx="431.03" cy="685.23" r="2.62"/><circle cx="441.58" cy="683.15" r="2.62"/><circle cx="449.06" cy="680.94" r="2.62"/><circle cx="454.87" cy="679.19" r="2.62"/><circle cx="459.61" cy="676.87" r="2.62"/><circle cx="463.62" cy="674.78" r="2.62"/><circle cx="467.1" cy="673.15" r="2.62"/><circle cx="470.16" cy="670.95" r="2.62"/><circle cx="472.9" cy="668.86" r="2.62"/><circle cx="490.93" cy="648.65" r="2.62"/><circle cx="501.48" cy="628.9" r="2.62"/><circle cx="508.96" cy="609.6" r="2.62"/><circle cx="514.77" cy="592.76" r="2.62"/><circle cx="519.51" cy="574.12" r="2.62"/><circle cx="523.52" cy="559.34" r="2.62"/><circle cx="527" cy="542.34" r="2.62"/><circle cx="530.06" cy="528.02" r="2.62"/><circle cx="532.8" cy="514.73" r="2.62"/><circle cx="550.83" cy="436.24" r="2.62"/><circle cx="561.38" cy="432.68" r="2.62"/><circle cx="568.86" cy="444.63" r="2.62"/><circle cx="574.67" cy="468.69" r="2.62"/><circle cx="579.41" cy="490.96" r="2.62"/><circle cx="583.42" cy="511.29" r="2.62"/><circle cx="586.9" cy="528.18" r="2.62"/><circle cx="589.96" cy="542.53" r="2.62"/><circle cx="592.7" cy="554.86" r="2.62"/><circle cx="610.73" cy="617.9" r="2.62"/><circle cx="621.28" cy="640.99" r="2.62"/><circle cx="628.76" cy="652.91" r="2.62"/><circle cx="634.57" cy="660.01" r="2.62"/><circle cx="639.31" cy="664.89" r="2.62"/><circle cx="643.32" cy="668.38" r="2.62"/><circle cx="646.8" cy="670.99" r="2.62"/><circle cx="649.86" cy="672.99" r="2.62"/><circle cx="652.6" cy="674.62" r="2.62"/><circle cx="670.63" cy="682.07" r="2.62"/><circle cx="681.18" cy="684.4" r="2.62"/><circle cx="688.66" cy="685.63" r="2.62"/><circle cx="694.47" cy="686.36" r="2.62"/><circle cx="699.21" cy="686.85" r="2.62"/><circle cx="703.22" cy="687.2" r="2.62"/><circle cx="706.7" cy="687.47" r="2.62"/><circle cx="709.76" cy="687.69" r="2.62"/><circle cx="712.5" cy="687.85" r="2.62"/></g>
<g fill="#0000ff" stroke="none"><circle cx="413" cy="688.65" r="1.85"/><circle cx="431.03" cy="688.01" r="1.85"/><circle cx="441.58" cy="687.36" r="1.85"/><circle cx="449.06" cy="686.72" r="1.85"/><circle cx="454.87" cy="686.07" r="1.85"/><circle cx="459.61" cy="685.43" r="1.85"/><circle cx="463.62" cy="684.78" r="1.85"/><circle cx="467.1" cy="684.14" r="1.85"/><circle cx="470.16" cy="683.49" r="1.85"/><circle cx="472.9" cy="682.85" r="1.85"/><circle cx="490.93" cy="676.59" r="1.85"/><circle cx="501.48" cy="670.27" r="1.85"/><circle cx="508.96" cy="664.14" r="1.85"/><circle cx="514.77" cy="658.83" r="1.85"/><circle cx="519.51" cy="653.75" r="1.85"/><circle cx="523.52" cy="648.55" r="1.85"/><circle cx="527" cy="643.94" r="1.85"/><circle cx="530.06" cy="639.32" r="1.85"/><circle cx="532.8" cy="635.29" r="1.85"/><circle cx="550.83" cy="613.3" r="1.85"/><circle cx="561.38" cy="611.26" r="1.85"/><circle cx="568.86" cy="615.1" r="1.85"/><circle cx="574.67" cy="621.93" r="1.85"/><circle cx="579.41" cy="630.18" r="1.85"/><circle cx="583.42" cy="636.44" r="1.85"/><circle cx="586.9" cy="647.75" r="1.85"/><circle cx="589.96" cy="649.21" r="1.85"/><circle cx="592.7" cy="650.1" r="1.85"/><circle cx="610.73" cy="661.51" r="1.85"/><circle cx="621.28" cy="668.77" r="1.85"/><circle cx="628.76" cy="672.63" r="1.85"/><circle cx="634.57" cy="675.71" r="1.85"/><circle cx="639.31" cy="677.8" r="1.85"/><circle cx="643.32" cy="679.39" r="1.85"/><circle cx="646.8" cy="680.55" r="1.85"/><circle cx="649.86" cy="681.45" r="1.85"/><circle cx="652.6" cy="682.15" r="1.85"/><circle cx="670.63" cy="685.55" r="1.85"/><circle cx="681.18" cy="686.87" r="1.85"/><circle cx="688.66" cy="687.41" r="1.85"/><circle cx="694.47" cy="687.8" r="1.85"/><circle cx="699.21" cy="688" r="1.85"/><circle cx="703.22" cy="688.16" r="1.85"/><circle cx="706.7" cy="688.36" r="1.85"/><circle cx="709.76" cy="688.48" r="1.85"/><circle cx="712.5" cy="688.54" r="1.85"/></g>
<g fill="#007f00" stroke="none"><circle cx="413" cy="688.04" r="1.85"/><circle cx="431.03" cy="686.59" r="1.85"/><circle cx="441.58" cy="685.14" r="1.85"/><circle cx="449.06" cy="683.69" r="1.85"/><circle cx="454.87" cy="682.33" r="1.85"/><circle cx="459.61" cy="680.88" r="1.85"/><circle cx="463.62" cy="679.43" r="1.85"/><circle cx="467.1" cy="678.17" r="1.85"/><circle cx="470.16" cy="676.72" r="1.85"/><circle cx="472.9" cy="675.45" r="1.85"/><circle cx="490.93" cy="662.17" r="1.85"/><circle cx="501.48" cy="649.82" r="1.85"/><circle cx="508.96" cy="636.53" r="1.85"/><circle cx="514.77" cy="624.63" r="1.85"/><circle cx="519.51" cy="613.71" r="1.85"/><circle cx="523.52" cy="602.59" r="1.85"/><circle cx="527" cy="592.61" r="1.85"/><circle cx="530.06" cy="583.49" r="1.85"/><circle cx="532.8" cy="574.33" r="1.85"/><circle cx="550.83" cy="524.55" r="1.85"/><circle cx="561.38" cy="519.5" r="1.85"/><circle cx="568.86" cy="530.29" r="1.85"/><circle cx="574.67" cy="545.37" r="1.85"/><circle cx="579.41" cy="559.84" r="1.85"/><circle cx="583.42" cy="572.83" r="1.85"/><circle cx="586.9" cy="583.92" r="1.85"/><circle cx="589.96" cy="593.02" r="1.85"/><circle cx="592.7" cy="600.51" r="1.85"/><circle cx="610.73" cy="638.85" r="1.85"/><circle cx="621.28" cy="653.77" r="1.85"/><circle cx="628.76" cy="662.98" r="1.85"/><circle cx="634.57" cy="668.14" r="1.85"/><circle cx="639.31" cy="671.58" r="1.85"/><circle cx="643.32" cy="674" r="1.85"/><circle cx="646.8" cy="675.98" r="1.85"/><circle cx="649.86" cy="677.6" r="1.85"/><circle cx="652.6" cy="678.87" r="1.85"/><circle cx="670.63" cy="683.69" r="1.85"/><circle cx="681.18" cy="685.71" r="1.85"/><circle cx="688.66" cy="686.64" r="1.85"/><circle cx="694.47" cy="687.09" r="1.85"/><circle cx="699.21" cy="687.45" r="1.85"/><circle cx="703.22" cy="687.71" r="1.85"/><circle cx="706.7" cy="687.91" r="1.85"/><circle cx="709.76" cy="688.07" r="1.85"/><circle cx="712.5" cy="688.17" r="1.85"/></g>
<g fill="#ff0000" stroke="none"><circle cx="413" cy="687.32" r="1.85"/><circle cx="431.03" cy="685.23" r="1.85"/><circle cx="441.58" cy="683.15" r="1.85"/><circle cx="449.06" cy="680.94" r="1.85"/><circle cx="454.87" cy="679.19" r="1.85"/><circle cx="459.61" cy="676.87" r="1.85"/><circle cx="463.62" cy="674.78" r="1.85"/><circle cx="467.1" cy="673.15" r="1.85"/><circle cx="470.16" cy="670.95" r="1.85"/><circle cx="472.9" cy="668.86" r="1.85"/><circle cx="490.93" cy="648.65" r="1.85"/><circle cx="501.48" cy="628.9" r="1.85"/><circle cx="508.96" cy="609.6" r="1.85"/><circle cx="514.77" cy="592.76" r="1.85"/><circle cx="519.51" cy="574.12" r="1.85"/><circle cx="523.52" cy="559.34" r="1.85"/><circle cx="527" cy="542.34" r="1.85"/><circle cx="530.06" cy="528.02" r="1.85"/><circle cx="532.8" cy="514.73" r="1.85"/><circle cx="550.83" cy="436.24" r="1.85"/><circle cx="561.38" cy="432.68" r="1.85"/><circle cx="568.86" cy="444.63" r="1.85"/><circle cx="574.67" cy="468.69" r="1.85"/><circle cx="579.41" cy="490.96" r="1.85"/><circle cx="583.42" cy="511.29" r="1.85"/><circle cx="586.9" cy="528.18" r="1.85"/><circle cx="589.96" cy="542.53" r="1.85"/><circle cx="592.7" cy="554.86" r="1.85"/><circle cx="610.73" cy="605.57" r="1.85"/><circle cx="621.28" cy="632.49" r="1.85"/><circle cx="628.76" cy="643.83" r="1.85"/><circle cx="634.57" cy="653.87" r="1.85"/><circle cx="639.31" cy="659.72" r="1.85"/><circle cx="643.32" cy="664.24" r="1.85"/><circle cx="646.8" cy="670.25" r="1.85"/><circle cx="649.86" cy="670.4" r="1.85"/><circle cx="652.6" cy="671.62" r="1.85"/><circle cx="670.63" cy="682.07" r="1.85"/><circle cx="681.18" cy="684.4" r="1.85"/><circle cx="688.66" cy="685.63" r="1.85"/><circle cx="694.47" cy="686.36" r="1.85"/><circle cx="703.22" cy="687.2" r="1.85"/><circle cx="709.76" cy="687.69" r="1.85"/></g>
<text x="559.9" y="723.6" font-size="13.5" text-anchor="middle">R (ohm)</text>
<text transform="translate(377.3,543.5) rotate(-90)" font-size="13.5" text-anchor="middle">Power (W)</text>
<rect x="628.2" y="402.4" width="80.6" height="97.0" fill="#fff" stroke="#7c7c7c" stroke-width="1"/>
<path d="M632.3 411.5h19.6" stroke="#0000ff" stroke-width="1.3"/>
<circle cx="642.3" cy="411.5" r="2.85" fill="none" stroke="#000" stroke-width="1.35"/>
<text x="654.5" y="416" font-size="11">f=0.5 N/m<tspan dy="-4.9" font-size="7.3">2</tspan></text>
<path d="M632.3 427.3h19.6" stroke="#007f00" stroke-width="1.3"/>
<circle cx="642.3" cy="427.3" r="2.85" fill="none" stroke="#000" stroke-width="1.35"/>
<text x="654.5" y="431.8" font-size="11">f=1 N/m<tspan dy="-4.9" font-size="7.3">2</tspan></text>
<path d="M632.3 443.1h19.6" stroke="#ff0000" stroke-width="1.3"/>
<circle cx="642.3" cy="443.1" r="2.85" fill="none" stroke="#000" stroke-width="1.35"/>
<text x="654.5" y="447.6" font-size="11">f=1.5 N/m<tspan dy="-4.9" font-size="7.3">2</tspan></text>
<path d="M632.3 458.9h5.6m9.2 0h5.2" stroke="#0000ff" stroke-width="1.4"/>
<circle cx="642.3" cy="458.9" r="1.85" fill="#0000ff"/>
<text x="654.5" y="463.4" font-size="11">f=0.5 N/m<tspan dy="-4.9" font-size="7.3">2</tspan></text>
<path d="M632.3 474.7h5.6m9.2 0h5.2" stroke="#007f00" stroke-width="1.4"/>
<circle cx="642.3" cy="474.7" r="1.85" fill="#007f00"/>
<text x="654.5" y="479.2" font-size="11">f=1 N/m<tspan dy="-4.9" font-size="7.3">2</tspan></text>
<path d="M632.3 490.5h5.6m9.2 0h5.2" stroke="#ff0000" stroke-width="1.4"/>
<circle cx="642.3" cy="490.5" r="1.85" fill="#ff0000"/>
<text x="654.5" y="495" font-size="11">f=1.5 N/m<tspan dy="-4.9" font-size="7.3">2</tspan></text>
</g>
<g class="cap" font-family="'Liberation Serif', serif" font-size="19">
<text x="38.4" y="369.9" textLength="21" lengthAdjust="spacingAndGlyphs">(a)</text>
<text x="69.7" y="369.9" textLength="107.8" lengthAdjust="spacingAndGlyphs">Displacement</text>
<text x="185.5" y="369.9" textLength="17.8" lengthAdjust="spacingAndGlyphs">of</text>
<text x="208" y="369.9" textLength="33.7" lengthAdjust="spacingAndGlyphs">base</text>
<text x="249" y="369.9" textLength="73.8" lengthAdjust="spacingAndGlyphs">structure</text>
<text x="393" y="369.9" textLength="23.4" lengthAdjust="spacingAndGlyphs">(b)</text>
<text x="424.8" y="369.9" textLength="81.6" lengthAdjust="spacingAndGlyphs">Horizontal</text>
<text x="516.5" y="369.9" textLength="104.7" lengthAdjust="spacingAndGlyphs">displacement</text>
<text x="629.7" y="369.9" textLength="14.8" lengthAdjust="spacingAndGlyphs">of</text>
<text x="650.9" y="369.9" textLength="21" lengthAdjust="spacingAndGlyphs">tip</text>
<text x="680.3" y="369.9" textLength="37.9" lengthAdjust="spacingAndGlyphs">mass</text>
<text x="92.8" y="752.2" textLength="20.3" lengthAdjust="spacingAndGlyphs">(c)</text>
<text x="123.1" y="752.2" textLength="80" lengthAdjust="spacingAndGlyphs">Harvested</text>
<text x="210.8" y="752.2" textLength="58" lengthAdjust="spacingAndGlyphs">voltage</text>
<text x="471.8" y="752.4" textLength="23.1" lengthAdjust="spacingAndGlyphs">(d)</text>
<text x="503.8" y="752.4" textLength="79.4" lengthAdjust="spacingAndGlyphs">Harvested</text>
<text x="592.3" y="752.4" textLength="47.2" lengthAdjust="spacingAndGlyphs">power</text>
</g>
</svg>
</body>
</html>
